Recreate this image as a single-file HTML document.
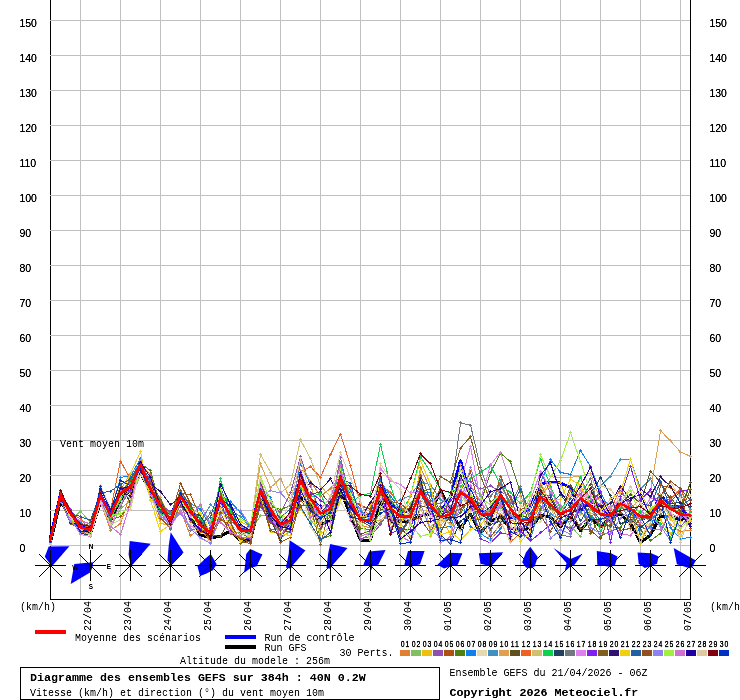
<!DOCTYPE html>
<html><head><meta charset="utf-8"><title>GEFS</title>
<style>html,body{margin:0;padding:0;background:#fff;overflow:hidden}svg{display:block}text{white-space:pre}</style>
</head><body>
<svg width="740" height="700" viewBox="0 0 740 700">
<defs><filter id="bw" x="0" y="0" width="740" height="700" filterUnits="userSpaceOnUse" color-interpolation-filters="sRGB"><feComponentTransfer><feFuncA type="table" tableValues="0 0.12 0.55 0.9 1"/></feComponentTransfer></filter><filter id="bw2" x="0" y="0" width="740" height="700" filterUnits="userSpaceOnUse" color-interpolation-filters="sRGB"><feComponentTransfer><feFuncA type="table" tableValues="0 0.25 0.8 1 1"/></feComponentTransfer></filter></defs>
<rect width="740" height="700" fill="#fff"/>
<path d="M80.5,0V599M120.5,0V599M160.5,0V599M200.5,0V599M240.5,0V599M280.5,0V599M320.5,0V599M360.5,0V599M400.5,0V599M440.5,0V599M480.5,0V599M520.5,0V599M560.5,0V599M600.5,0V599M640.5,0V599M680.5,0V599" stroke="#c0c0c0" stroke-width="1" fill="none" shape-rendering="crispEdges"/>
<path d="M50.5,0V600M690.5,0V600M50,599.5H691" stroke="#000" stroke-width="1" fill="none" shape-rendering="crispEdges"/>
<path d="M50,20.5H690M50,55.5H690M50,90.5H690M50,125.5H690M50,160.5H690M50,195.5H690M50,230.5H690M50,265.5H690M50,300.5H690M50,335.5H690M50,370.5H690M50,405.5H690M50,440.5H690M50,475.5H690M50,510.5H690M50,545.5H690" stroke="#c0c0c0" stroke-width="1" fill="none" shape-rendering="crispEdges"/>
<g filter="url(#bw2)" font-family="Liberation Sans, sans-serif" font-size="10.5" fill="#000"><text x="19.4" y="27">150</text><text x="709.4" y="27">150</text><text x="19.4" y="62">140</text><text x="709.4" y="62">140</text><text x="19.4" y="97">130</text><text x="709.4" y="97">130</text><text x="19.4" y="132">120</text><text x="709.4" y="132">120</text><text x="19.4" y="167">110</text><text x="709.4" y="167">110</text><text x="19.4" y="202">100</text><text x="709.4" y="202">100</text><text x="19.4" y="237">90</text><text x="709.4" y="237">90</text><text x="19.4" y="272">80</text><text x="709.4" y="272">80</text><text x="19.4" y="307">70</text><text x="709.4" y="307">70</text><text x="19.4" y="342">60</text><text x="709.4" y="342">60</text><text x="19.4" y="377">50</text><text x="709.4" y="377">50</text><text x="19.4" y="412">40</text><text x="709.4" y="412">40</text><text x="19.4" y="447">30</text><text x="709.4" y="447">30</text><text x="19.4" y="482">20</text><text x="709.4" y="482">20</text><text x="19.4" y="517">10</text><text x="709.4" y="517">10</text><text x="19.4" y="552">0</text><text x="709.4" y="552">0</text></g>
<g transform="translate(0.5,0.5)">
<polyline points="50,541.4 60,500.3 70,517.5 80,529.9 90,533.1 100,501.3 110,519.8 120,498.9 130,489.5 140,472.1 150,492.3 160,510.4 170,522.2 180,500.4 190,516.8 200,534.5 210,537.3 220,535.9 230,530.3 240,540.5 250,539.8 260,497.8 270,517.9 280,527.3 290,523.3 300,496.7 310,504.9 320,524.5 330,520.1 340,490.1 350,514.5 360,539.8 370,539.8 380,500.2 390,520.6 400,521.0 410,520.5 420,514.9 430,513.5 440,490.1 450,510.0 460,527.9 470,513.5 480,532.5 490,520.8 500,516.0 510,527.9 520,529.2 530,527.9 540,514.9 550,516.3 560,526.0 570,515.4 580,530.0 590,518.2 600,525.9 610,517.3 620,513.5 630,523.0 640,542.2 650,534.5 660,515.5 670,516.3 680,518.9 690,517.4" fill="none" stroke="#000" stroke-width="3" stroke-linejoin="round" stroke-linecap="round" shape-rendering="crispEdges"/>
<polyline points="50,536.9 60,493.8 70,511.7 80,524.7 90,528.7 100,494.2 110,514.2 120,491.2 130,486.1 140,461.8 150,486.1 160,504.3 170,514.6 180,495.2 190,507.3 200,524.4 210,529.8 220,499.8 230,513.4 240,529.0 250,530.5 260,489.5 270,508.5 280,524.6 290,524.7 300,476.4 310,498.4 320,513.4 330,510.0 340,475.8 350,497.1 360,518.6 370,513.5 380,482.4 390,503.0 400,510.8 410,509.8 420,491.1 430,504.3 440,511.8 450,496.4 460,460.3 470,496.4 480,510.0 490,514.2 500,503.0 510,517.0 520,515.2 530,506.5 540,483.1 550,481.6 560,482.4 570,487.2 580,510.0 590,501.2 600,504.6 610,519.9 620,500.0 630,511.3 640,518.4 650,516.4 660,494.8 670,505.7 680,506.3 690,518.7" fill="none" stroke="#0000ff" stroke-width="3" stroke-linejoin="round" stroke-linecap="round" shape-rendering="crispEdges"/>
<polyline points="50,539.1 60,495.3 70,514.7 80,531.8 90,532.8 100,501.2 110,529.6 120,523.3 130,492.5 140,463.4 150,486.9 160,519.4 170,518.7 180,510.0 190,535.2 200,527.5 210,541.6 220,516.9 230,527.8 240,534.3 250,532.6 260,489.4 270,513.7 280,524.5 290,519.6 300,484.3 310,480.5 320,495.9 330,487.8 340,476.7 350,512.2 360,525.0 370,527.2 380,487.3 390,506.7 400,516.6 410,522.9 420,466.9 430,489.0 440,520.3 450,513.8 460,488.8 470,508.7 480,515.0 490,509.0 500,513.6 510,519.8 520,522.3 530,528.1 540,501.9 550,504.0 560,524.8 570,512.1 580,496.8 590,500.2 600,503.7 610,502.3 620,502.4 630,523.1 640,516.1 650,520.0 660,508.9 670,524.4 680,530.8 690,530.0" fill="none" stroke="#E08030" stroke-width="1" shape-rendering="crispEdges"/>
<path d="M48.5,539h3M50,537.5v3M58.5,495h3M60,493.5v3M68.5,515h3M70,513.5v3M78.5,532h3M80,530.5v3M88.5,533h3M90,531.5v3M98.5,501h3M100,499.5v3M108.5,530h3M110,528.5v3M118.5,523h3M120,521.5v3M128.5,492h3M130,490.5v3M138.5,463h3M140,461.5v3M148.5,487h3M150,485.5v3M158.5,519h3M160,517.5v3M168.5,519h3M170,517.5v3M178.5,510h3M180,508.5v3M188.5,535h3M190,533.5v3M198.5,528h3M200,526.5v3M208.5,542h3M210,540.5v3M218.5,517h3M220,515.5v3M228.5,528h3M230,526.5v3M238.5,534h3M240,532.5v3M248.5,533h3M250,531.5v3M258.5,489h3M260,487.5v3M268.5,514h3M270,512.5v3M278.5,524h3M280,522.5v3M288.5,520h3M290,518.5v3M298.5,484h3M300,482.5v3M308.5,481h3M310,479.5v3M318.5,496h3M320,494.5v3M328.5,488h3M330,486.5v3M338.5,477h3M340,475.5v3M348.5,512h3M350,510.5v3M358.5,525h3M360,523.5v3M368.5,527h3M370,525.5v3M378.5,487h3M380,485.5v3M388.5,507h3M390,505.5v3M398.5,517h3M400,515.5v3M408.5,523h3M410,521.5v3M418.5,467h3M420,465.5v3M428.5,489h3M430,487.5v3M438.5,520h3M440,518.5v3M448.5,514h3M450,512.5v3M458.5,489h3M460,487.5v3M468.5,509h3M470,507.5v3M478.5,515h3M480,513.5v3M488.5,509h3M490,507.5v3M498.5,514h3M500,512.5v3M508.5,520h3M510,518.5v3M518.5,522h3M520,520.5v3M528.5,528h3M530,526.5v3M538.5,502h3M540,500.5v3M548.5,504h3M550,502.5v3M558.5,525h3M560,523.5v3M568.5,512h3M570,510.5v3M578.5,497h3M580,495.5v3M588.5,500h3M590,498.5v3M598.5,504h3M600,502.5v3M608.5,502h3M610,500.5v3M618.5,502h3M620,500.5v3M628.5,523h3M630,521.5v3M638.5,516h3M640,514.5v3M648.5,520h3M650,518.5v3M658.5,509h3M660,507.5v3M668.5,524h3M670,522.5v3M678.5,531h3M680,529.5v3M688.5,530h3M690,528.5v3" stroke="#E08030" stroke-width="1" fill="none" shape-rendering="crispEdges"/>
<polyline points="50,541.0 60,500.9 70,520.2 80,510.7 90,522.2 100,499.5 110,527.1 120,508.3 130,499.7 140,474.4 150,488.6 160,505.4 170,514.3 180,491.1 190,507.4 200,505.2 210,523.0 220,492.2 230,512.7 240,535.3 250,530.5 260,515.2 270,513.5 280,537.9 290,530.1 300,479.9 310,520.1 320,530.6 330,507.7 340,493.9 350,495.2 360,517.0 370,520.1 380,486.2 390,498.5 400,512.1 410,502.9 420,490.2 430,505.1 440,509.2 450,513.3 460,502.3 470,490.9 480,493.5 490,514.2 500,507.5 510,511.7 520,520.2 530,523.6 540,487.3 550,504.9 560,507.8 570,525.5 580,535.9 590,509.4 600,512.6 610,505.5 620,501.1 630,506.9 640,515.9 650,514.9 660,498.0 670,506.2 680,511.9 690,515.0" fill="none" stroke="#80C060" stroke-width="1" shape-rendering="crispEdges"/>
<path d="M48.5,541h3M50,539.5v3M58.5,501h3M60,499.5v3M68.5,520h3M70,518.5v3M78.5,511h3M80,509.5v3M88.5,522h3M90,520.5v3M98.5,499h3M100,497.5v3M108.5,527h3M110,525.5v3M118.5,508h3M120,506.5v3M128.5,500h3M130,498.5v3M138.5,474h3M140,472.5v3M148.5,489h3M150,487.5v3M158.5,505h3M160,503.5v3M168.5,514h3M170,512.5v3M178.5,491h3M180,489.5v3M188.5,507h3M190,505.5v3M198.5,505h3M200,503.5v3M208.5,523h3M210,521.5v3M218.5,492h3M220,490.5v3M228.5,513h3M230,511.5v3M238.5,535h3M240,533.5v3M248.5,530h3M250,528.5v3M258.5,515h3M260,513.5v3M268.5,514h3M270,512.5v3M278.5,538h3M280,536.5v3M288.5,530h3M290,528.5v3M298.5,480h3M300,478.5v3M308.5,520h3M310,518.5v3M318.5,531h3M320,529.5v3M328.5,508h3M330,506.5v3M338.5,494h3M340,492.5v3M348.5,495h3M350,493.5v3M358.5,517h3M360,515.5v3M368.5,520h3M370,518.5v3M378.5,486h3M380,484.5v3M388.5,499h3M390,497.5v3M398.5,512h3M400,510.5v3M408.5,503h3M410,501.5v3M418.5,490h3M420,488.5v3M428.5,505h3M430,503.5v3M438.5,509h3M440,507.5v3M448.5,513h3M450,511.5v3M458.5,502h3M460,500.5v3M468.5,491h3M470,489.5v3M478.5,494h3M480,492.5v3M488.5,514h3M490,512.5v3M498.5,508h3M500,506.5v3M508.5,512h3M510,510.5v3M518.5,520h3M520,518.5v3M528.5,524h3M530,522.5v3M538.5,487h3M540,485.5v3M548.5,505h3M550,503.5v3M558.5,508h3M560,506.5v3M568.5,526h3M570,524.5v3M578.5,536h3M580,534.5v3M588.5,509h3M590,507.5v3M598.5,513h3M600,511.5v3M608.5,506h3M610,504.5v3M618.5,501h3M620,499.5v3M628.5,507h3M630,505.5v3M638.5,516h3M640,514.5v3M648.5,515h3M650,513.5v3M658.5,498h3M660,496.5v3M668.5,506h3M670,504.5v3M678.5,512h3M680,510.5v3M688.5,515h3M690,513.5v3" stroke="#80C060" stroke-width="1" fill="none" shape-rendering="crispEdges"/>
<polyline points="50,538.2 60,490.7 70,509.7 80,526.8 90,530.6 100,496.1 110,513.8 120,492.6 130,486.1 140,459.3 150,494.6 160,523.0 170,524.7 180,495.8 190,510.8 200,525.1 210,532.5 220,496.4 230,518.1 240,521.4 250,526.0 260,489.3 270,509.5 280,526.7 290,523.5 300,508.4 310,522.9 320,513.3 330,519.3 340,487.3 350,501.2 360,514.6 370,505.4 380,490.1 390,508.9 400,521.3 410,515.9 420,470.4 430,536.3 440,516.3 450,533.5 460,476.8 470,519.5 480,517.3 490,513.5 500,494.2 510,505.0 520,512.1 530,514.8 540,496.3 550,483.3 560,482.1 570,507.9 580,477.3 590,505.1 600,511.7 610,514.9 620,503.0 630,504.6 640,543.2 650,512.6 660,519.4 670,533.3 680,520.6 690,524.2" fill="none" stroke="#F0C010" stroke-width="1" shape-rendering="crispEdges"/>
<path d="M48.5,538h3M50,536.5v3M58.5,491h3M60,489.5v3M68.5,510h3M70,508.5v3M78.5,527h3M80,525.5v3M88.5,531h3M90,529.5v3M98.5,496h3M100,494.5v3M108.5,514h3M110,512.5v3M118.5,493h3M120,491.5v3M128.5,486h3M130,484.5v3M138.5,459h3M140,457.5v3M148.5,495h3M150,493.5v3M158.5,523h3M160,521.5v3M168.5,525h3M170,523.5v3M178.5,496h3M180,494.5v3M188.5,511h3M190,509.5v3M198.5,525h3M200,523.5v3M208.5,533h3M210,531.5v3M218.5,496h3M220,494.5v3M228.5,518h3M230,516.5v3M238.5,521h3M240,519.5v3M248.5,526h3M250,524.5v3M258.5,489h3M260,487.5v3M268.5,510h3M270,508.5v3M278.5,527h3M280,525.5v3M288.5,523h3M290,521.5v3M298.5,508h3M300,506.5v3M308.5,523h3M310,521.5v3M318.5,513h3M320,511.5v3M328.5,519h3M330,517.5v3M338.5,487h3M340,485.5v3M348.5,501h3M350,499.5v3M358.5,515h3M360,513.5v3M368.5,505h3M370,503.5v3M378.5,490h3M380,488.5v3M388.5,509h3M390,507.5v3M398.5,521h3M400,519.5v3M408.5,516h3M410,514.5v3M418.5,470h3M420,468.5v3M428.5,536h3M430,534.5v3M438.5,516h3M440,514.5v3M448.5,534h3M450,532.5v3M458.5,477h3M460,475.5v3M468.5,519h3M470,517.5v3M478.5,517h3M480,515.5v3M488.5,514h3M490,512.5v3M498.5,494h3M500,492.5v3M508.5,505h3M510,503.5v3M518.5,512h3M520,510.5v3M528.5,515h3M530,513.5v3M538.5,496h3M540,494.5v3M548.5,483h3M550,481.5v3M558.5,482h3M560,480.5v3M568.5,508h3M570,506.5v3M578.5,477h3M580,475.5v3M588.5,505h3M590,503.5v3M598.5,512h3M600,510.5v3M608.5,515h3M610,513.5v3M618.5,503h3M620,501.5v3M628.5,505h3M630,503.5v3M638.5,543h3M640,541.5v3M648.5,513h3M650,511.5v3M658.5,519h3M660,517.5v3M668.5,533h3M670,531.5v3M678.5,521h3M680,519.5v3M688.5,524h3M690,522.5v3" stroke="#F0C010" stroke-width="1" fill="none" shape-rendering="crispEdges"/>
<polyline points="50,543.2 60,495.0 70,513.1 80,521.7 90,529.8 100,495.7 110,520.9 120,492.5 130,481.5 140,464.1 150,479.6 160,503.5 170,511.3 180,505.9 190,509.2 200,524.5 210,536.2 220,497.0 230,515.2 240,525.3 250,531.0 260,484.8 270,503.4 280,512.3 290,492.5 300,456.1 310,485.5 320,512.2 330,507.4 340,457.3 350,501.0 360,538.0 370,536.1 380,523.8 390,508.4 400,515.9 410,517.5 420,491.1 430,495.2 440,514.2 450,508.1 460,478.8 470,481.2 480,488.4 490,485.3 500,491.4 510,495.5 520,525.8 530,533.7 540,470.8 550,492.5 560,522.7 570,528.1 580,524.1 590,514.8 600,524.3 610,520.6 620,491.0 630,502.8 640,512.6 650,501.6 660,495.5 670,515.0 680,526.3 690,514.8" fill="none" stroke="#9050B0" stroke-width="1" shape-rendering="crispEdges"/>
<path d="M48.5,543h3M50,541.5v3M58.5,495h3M60,493.5v3M68.5,513h3M70,511.5v3M78.5,522h3M80,520.5v3M88.5,530h3M90,528.5v3M98.5,496h3M100,494.5v3M108.5,521h3M110,519.5v3M118.5,492h3M120,490.5v3M128.5,482h3M130,480.5v3M138.5,464h3M140,462.5v3M148.5,480h3M150,478.5v3M158.5,504h3M160,502.5v3M168.5,511h3M170,509.5v3M178.5,506h3M180,504.5v3M188.5,509h3M190,507.5v3M198.5,524h3M200,522.5v3M208.5,536h3M210,534.5v3M218.5,497h3M220,495.5v3M228.5,515h3M230,513.5v3M238.5,525h3M240,523.5v3M248.5,531h3M250,529.5v3M258.5,485h3M260,483.5v3M268.5,503h3M270,501.5v3M278.5,512h3M280,510.5v3M288.5,492h3M290,490.5v3M298.5,456h3M300,454.5v3M308.5,486h3M310,484.5v3M318.5,512h3M320,510.5v3M328.5,507h3M330,505.5v3M338.5,457h3M340,455.5v3M348.5,501h3M350,499.5v3M358.5,538h3M360,536.5v3M368.5,536h3M370,534.5v3M378.5,524h3M380,522.5v3M388.5,508h3M390,506.5v3M398.5,516h3M400,514.5v3M408.5,517h3M410,515.5v3M418.5,491h3M420,489.5v3M428.5,495h3M430,493.5v3M438.5,514h3M440,512.5v3M448.5,508h3M450,506.5v3M458.5,479h3M460,477.5v3M468.5,481h3M470,479.5v3M478.5,488h3M480,486.5v3M488.5,485h3M490,483.5v3M498.5,491h3M500,489.5v3M508.5,496h3M510,494.5v3M518.5,526h3M520,524.5v3M528.5,534h3M530,532.5v3M538.5,471h3M540,469.5v3M548.5,492h3M550,490.5v3M558.5,523h3M560,521.5v3M568.5,528h3M570,526.5v3M578.5,524h3M580,522.5v3M588.5,515h3M590,513.5v3M598.5,524h3M600,522.5v3M608.5,521h3M610,519.5v3M618.5,491h3M620,489.5v3M628.5,503h3M630,501.5v3M638.5,513h3M640,511.5v3M648.5,502h3M650,500.5v3M658.5,496h3M660,494.5v3M668.5,515h3M670,513.5v3M678.5,526h3M680,524.5v3M688.5,515h3M690,513.5v3" stroke="#9050B0" stroke-width="1" fill="none" shape-rendering="crispEdges"/>
<polyline points="50,542.3 60,495.1 70,513.1 80,527.6 90,528.4 100,494.9 110,518.9 120,516.2 130,504.0 140,464.4 150,491.2 160,517.7 170,527.6 180,492.5 190,494.2 200,517.0 210,537.0 220,519.3 230,524.5 240,539.9 250,543.2 260,497.6 270,516.8 280,541.6 290,537.0 300,499.6 310,512.3 320,513.1 330,502.7 340,470.4 350,497.0 360,505.1 370,508.6 380,478.8 390,520.9 400,515.0 410,505.9 420,483.7 430,505.1 440,488.7 450,521.7 460,492.0 470,471.1 480,512.4 490,510.7 500,475.5 510,498.7 520,509.1 530,504.3 540,498.5 550,504.0 560,513.6 570,505.6 580,497.7 590,506.8 600,526.3 610,524.3 620,503.0 630,508.4 640,525.2 650,532.8 660,485.0 670,487.0 680,493.6 690,528.0" fill="none" stroke="#B05010" stroke-width="1" shape-rendering="crispEdges"/>
<path d="M48.5,542h3M50,540.5v3M58.5,495h3M60,493.5v3M68.5,513h3M70,511.5v3M78.5,528h3M80,526.5v3M88.5,528h3M90,526.5v3M98.5,495h3M100,493.5v3M108.5,519h3M110,517.5v3M118.5,516h3M120,514.5v3M128.5,504h3M130,502.5v3M138.5,464h3M140,462.5v3M148.5,491h3M150,489.5v3M158.5,518h3M160,516.5v3M168.5,528h3M170,526.5v3M178.5,492h3M180,490.5v3M188.5,494h3M190,492.5v3M198.5,517h3M200,515.5v3M208.5,537h3M210,535.5v3M218.5,519h3M220,517.5v3M228.5,525h3M230,523.5v3M238.5,540h3M240,538.5v3M248.5,543h3M250,541.5v3M258.5,498h3M260,496.5v3M268.5,517h3M270,515.5v3M278.5,542h3M280,540.5v3M288.5,537h3M290,535.5v3M298.5,500h3M300,498.5v3M308.5,512h3M310,510.5v3M318.5,513h3M320,511.5v3M328.5,503h3M330,501.5v3M338.5,470h3M340,468.5v3M348.5,497h3M350,495.5v3M358.5,505h3M360,503.5v3M368.5,509h3M370,507.5v3M378.5,479h3M380,477.5v3M388.5,521h3M390,519.5v3M398.5,515h3M400,513.5v3M408.5,506h3M410,504.5v3M418.5,484h3M420,482.5v3M428.5,505h3M430,503.5v3M438.5,489h3M440,487.5v3M448.5,522h3M450,520.5v3M458.5,492h3M460,490.5v3M468.5,471h3M470,469.5v3M478.5,512h3M480,510.5v3M488.5,511h3M490,509.5v3M498.5,476h3M500,474.5v3M508.5,499h3M510,497.5v3M518.5,509h3M520,507.5v3M528.5,504h3M530,502.5v3M538.5,499h3M540,497.5v3M548.5,504h3M550,502.5v3M558.5,514h3M560,512.5v3M568.5,506h3M570,504.5v3M578.5,498h3M580,496.5v3M588.5,507h3M590,505.5v3M598.5,526h3M600,524.5v3M608.5,524h3M610,522.5v3M618.5,503h3M620,501.5v3M628.5,508h3M630,506.5v3M638.5,525h3M640,523.5v3M648.5,533h3M650,531.5v3M658.5,485h3M660,483.5v3M668.5,487h3M670,485.5v3M678.5,494h3M680,492.5v3M688.5,528h3M690,526.5v3" stroke="#B05010" stroke-width="1" fill="none" shape-rendering="crispEdges"/>
<polyline points="50,538.6 60,493.0 70,510.4 80,526.5 90,528.9 100,500.2 110,515.6 120,492.1 130,486.2 140,463.1 150,470.1 160,505.8 170,523.0 180,496.0 190,511.0 200,525.6 210,539.6 220,490.6 230,508.5 240,531.2 250,539.3 260,488.4 270,505.9 280,509.0 290,505.3 300,479.4 310,494.9 320,539.2 330,534.8 340,491.6 350,504.6 360,528.1 370,528.8 380,487.9 390,505.8 400,510.5 410,510.5 420,490.6 430,488.6 440,512.9 450,518.2 460,512.5 470,497.7 480,503.0 490,471.9 500,452.6 510,461.4 520,492.5 530,529.9 540,508.9 550,499.3 560,511.1 570,509.4 580,497.3 590,516.9 600,535.7 610,530.9 620,526.6 630,512.1 640,529.4 650,540.2 660,532.7 670,508.2 680,506.5 690,482.4" fill="none" stroke="#508010" stroke-width="1" shape-rendering="crispEdges"/>
<path d="M48.5,539h3M50,537.5v3M58.5,493h3M60,491.5v3M68.5,510h3M70,508.5v3M78.5,527h3M80,525.5v3M88.5,529h3M90,527.5v3M98.5,500h3M100,498.5v3M108.5,516h3M110,514.5v3M118.5,492h3M120,490.5v3M128.5,486h3M130,484.5v3M138.5,463h3M140,461.5v3M148.5,470h3M150,468.5v3M158.5,506h3M160,504.5v3M168.5,523h3M170,521.5v3M178.5,496h3M180,494.5v3M188.5,511h3M190,509.5v3M198.5,526h3M200,524.5v3M208.5,540h3M210,538.5v3M218.5,491h3M220,489.5v3M228.5,509h3M230,507.5v3M238.5,531h3M240,529.5v3M248.5,539h3M250,537.5v3M258.5,488h3M260,486.5v3M268.5,506h3M270,504.5v3M278.5,509h3M280,507.5v3M288.5,505h3M290,503.5v3M298.5,479h3M300,477.5v3M308.5,495h3M310,493.5v3M318.5,539h3M320,537.5v3M328.5,535h3M330,533.5v3M338.5,492h3M340,490.5v3M348.5,505h3M350,503.5v3M358.5,528h3M360,526.5v3M368.5,529h3M370,527.5v3M378.5,488h3M380,486.5v3M388.5,506h3M390,504.5v3M398.5,511h3M400,509.5v3M408.5,511h3M410,509.5v3M418.5,491h3M420,489.5v3M428.5,489h3M430,487.5v3M438.5,513h3M440,511.5v3M448.5,518h3M450,516.5v3M458.5,512h3M460,510.5v3M468.5,498h3M470,496.5v3M478.5,503h3M480,501.5v3M488.5,472h3M490,470.5v3M498.5,453h3M500,451.5v3M508.5,461h3M510,459.5v3M518.5,492h3M520,490.5v3M528.5,530h3M530,528.5v3M538.5,509h3M540,507.5v3M548.5,499h3M550,497.5v3M558.5,511h3M560,509.5v3M568.5,509h3M570,507.5v3M578.5,497h3M580,495.5v3M588.5,517h3M590,515.5v3M598.5,536h3M600,534.5v3M608.5,531h3M610,529.5v3M618.5,527h3M620,525.5v3M628.5,512h3M630,510.5v3M638.5,529h3M640,527.5v3M648.5,540h3M650,538.5v3M658.5,533h3M660,531.5v3M668.5,508h3M670,506.5v3M678.5,506h3M680,504.5v3M688.5,482h3M690,480.5v3" stroke="#508010" stroke-width="1" fill="none" shape-rendering="crispEdges"/>
<polyline points="50,539.5 60,494.9 70,513.4 80,523.0 90,525.0 100,493.9 110,512.5 120,476.8 130,475.7 140,458.1 150,488.3 160,505.8 170,515.4 180,495.4 190,502.8 200,509.2 210,525.5 220,496.0 230,501.1 240,512.1 250,528.0 260,488.8 270,497.3 280,520.6 290,515.1 300,462.7 310,484.1 320,516.2 330,508.0 340,477.4 350,490.0 360,510.7 370,519.3 380,480.9 390,495.6 400,508.5 410,514.3 420,490.9 430,492.2 440,527.4 450,526.0 460,499.5 470,525.8 480,533.1 490,539.3 500,528.3 510,509.1 520,517.8 530,518.0 540,482.0 550,459.2 560,471.9 570,473.9 580,449.8 590,466.2 600,492.1 610,510.0 620,506.5 630,506.0 640,534.3 650,526.5 660,499.8 670,527.2 680,538.4 690,536.8" fill="none" stroke="#1080F0" stroke-width="1" shape-rendering="crispEdges"/>
<path d="M48.5,540h3M50,538.5v3M58.5,495h3M60,493.5v3M68.5,513h3M70,511.5v3M78.5,523h3M80,521.5v3M88.5,525h3M90,523.5v3M98.5,494h3M100,492.5v3M108.5,512h3M110,510.5v3M118.5,477h3M120,475.5v3M128.5,476h3M130,474.5v3M138.5,458h3M140,456.5v3M148.5,488h3M150,486.5v3M158.5,506h3M160,504.5v3M168.5,515h3M170,513.5v3M178.5,495h3M180,493.5v3M188.5,503h3M190,501.5v3M198.5,509h3M200,507.5v3M208.5,525h3M210,523.5v3M218.5,496h3M220,494.5v3M228.5,501h3M230,499.5v3M238.5,512h3M240,510.5v3M248.5,528h3M250,526.5v3M258.5,489h3M260,487.5v3M268.5,497h3M270,495.5v3M278.5,521h3M280,519.5v3M288.5,515h3M290,513.5v3M298.5,463h3M300,461.5v3M308.5,484h3M310,482.5v3M318.5,516h3M320,514.5v3M328.5,508h3M330,506.5v3M338.5,477h3M340,475.5v3M348.5,490h3M350,488.5v3M358.5,511h3M360,509.5v3M368.5,519h3M370,517.5v3M378.5,481h3M380,479.5v3M388.5,496h3M390,494.5v3M398.5,508h3M400,506.5v3M408.5,514h3M410,512.5v3M418.5,491h3M420,489.5v3M428.5,492h3M430,490.5v3M438.5,527h3M440,525.5v3M448.5,526h3M450,524.5v3M458.5,499h3M460,497.5v3M468.5,526h3M470,524.5v3M478.5,533h3M480,531.5v3M488.5,539h3M490,537.5v3M498.5,528h3M500,526.5v3M508.5,509h3M510,507.5v3M518.5,518h3M520,516.5v3M528.5,518h3M530,516.5v3M538.5,482h3M540,480.5v3M548.5,459h3M550,457.5v3M558.5,472h3M560,470.5v3M568.5,474h3M570,472.5v3M578.5,450h3M580,448.5v3M588.5,466h3M590,464.5v3M598.5,492h3M600,490.5v3M608.5,510h3M610,508.5v3M618.5,507h3M620,505.5v3M628.5,506h3M630,504.5v3M638.5,534h3M640,532.5v3M648.5,526h3M650,524.5v3M658.5,500h3M660,498.5v3M668.5,527h3M670,525.5v3M678.5,538h3M680,536.5v3M688.5,537h3M690,535.5v3" stroke="#1080F0" stroke-width="1" fill="none" shape-rendering="crispEdges"/>
<polyline points="50,542.7 60,497.5 70,514.2 80,526.8 90,529.2 100,484.8 110,507.4 120,495.2 130,486.3 140,470.1 150,498.9 160,513.1 170,520.9 180,494.6 190,524.1 200,539.0 210,540.6 220,504.8 230,523.0 240,532.6 250,536.0 260,489.8 270,508.9 280,524.1 290,525.8 300,485.9 310,525.9 320,542.3 330,523.9 340,501.6 350,518.2 360,523.6 370,538.2 380,516.2 390,512.1 400,515.9 410,513.4 420,487.3 430,511.7 440,521.9 450,515.6 460,487.1 470,492.9 480,514.2 490,531.0 500,510.5 510,525.1 520,538.5 530,526.5 540,521.3 550,509.3 560,513.5 570,515.1 580,488.0 590,503.9 600,508.7 610,511.7 620,494.1 630,530.4 640,536.9 650,521.4 660,498.8 670,481.6 680,498.0 690,494.6" fill="none" stroke="#E8D8B0" stroke-width="1" shape-rendering="crispEdges"/>
<path d="M48.5,543h3M50,541.5v3M58.5,497h3M60,495.5v3M68.5,514h3M70,512.5v3M78.5,527h3M80,525.5v3M88.5,529h3M90,527.5v3M98.5,485h3M100,483.5v3M108.5,507h3M110,505.5v3M118.5,495h3M120,493.5v3M128.5,486h3M130,484.5v3M138.5,470h3M140,468.5v3M148.5,499h3M150,497.5v3M158.5,513h3M160,511.5v3M168.5,521h3M170,519.5v3M178.5,495h3M180,493.5v3M188.5,524h3M190,522.5v3M198.5,539h3M200,537.5v3M208.5,541h3M210,539.5v3M218.5,505h3M220,503.5v3M228.5,523h3M230,521.5v3M238.5,533h3M240,531.5v3M248.5,536h3M250,534.5v3M258.5,490h3M260,488.5v3M268.5,509h3M270,507.5v3M278.5,524h3M280,522.5v3M288.5,526h3M290,524.5v3M298.5,486h3M300,484.5v3M308.5,526h3M310,524.5v3M318.5,542h3M320,540.5v3M328.5,524h3M330,522.5v3M338.5,502h3M340,500.5v3M348.5,518h3M350,516.5v3M358.5,524h3M360,522.5v3M368.5,538h3M370,536.5v3M378.5,516h3M380,514.5v3M388.5,512h3M390,510.5v3M398.5,516h3M400,514.5v3M408.5,513h3M410,511.5v3M418.5,487h3M420,485.5v3M428.5,512h3M430,510.5v3M438.5,522h3M440,520.5v3M448.5,516h3M450,514.5v3M458.5,487h3M460,485.5v3M468.5,493h3M470,491.5v3M478.5,514h3M480,512.5v3M488.5,531h3M490,529.5v3M498.5,510h3M500,508.5v3M508.5,525h3M510,523.5v3M518.5,538h3M520,536.5v3M528.5,526h3M530,524.5v3M538.5,521h3M540,519.5v3M548.5,509h3M550,507.5v3M558.5,513h3M560,511.5v3M568.5,515h3M570,513.5v3M578.5,488h3M580,486.5v3M588.5,504h3M590,502.5v3M598.5,509h3M600,507.5v3M608.5,512h3M610,510.5v3M618.5,494h3M620,492.5v3M628.5,530h3M630,528.5v3M638.5,537h3M640,535.5v3M648.5,521h3M650,519.5v3M658.5,499h3M660,497.5v3M668.5,482h3M670,480.5v3M678.5,498h3M680,496.5v3M688.5,495h3M690,493.5v3" stroke="#E8D8B0" stroke-width="1" fill="none" shape-rendering="crispEdges"/>
<polyline points="50,537.9 60,494.5 70,513.2 80,526.7 90,531.8 100,494.7 110,518.1 120,496.6 130,478.0 140,463.5 150,487.9 160,504.2 170,512.9 180,496.4 190,511.0 200,521.2 210,504.4 220,513.5 230,510.2 240,515.7 250,527.1 260,486.0 270,509.1 280,519.1 290,519.8 300,477.3 310,497.9 320,519.3 330,507.9 340,461.5 350,498.4 360,521.3 370,520.1 380,487.8 390,504.6 400,499.2 410,494.9 420,481.2 430,484.4 440,499.1 450,505.9 460,490.9 470,497.5 480,535.7 490,512.9 500,479.6 510,508.0 520,534.3 530,538.0 540,506.4 550,513.4 560,519.1 570,520.9 580,511.0 590,524.3 600,485.5 610,475.7 620,458.6 630,459.2 640,488.3 650,478.5 660,499.5 670,510.2 680,493.9 690,509.0" fill="none" stroke="#4090C0" stroke-width="1" shape-rendering="crispEdges"/>
<path d="M48.5,538h3M50,536.5v3M58.5,495h3M60,493.5v3M68.5,513h3M70,511.5v3M78.5,527h3M80,525.5v3M88.5,532h3M90,530.5v3M98.5,495h3M100,493.5v3M108.5,518h3M110,516.5v3M118.5,497h3M120,495.5v3M128.5,478h3M130,476.5v3M138.5,464h3M140,462.5v3M148.5,488h3M150,486.5v3M158.5,504h3M160,502.5v3M168.5,513h3M170,511.5v3M178.5,496h3M180,494.5v3M188.5,511h3M190,509.5v3M198.5,521h3M200,519.5v3M208.5,504h3M210,502.5v3M218.5,514h3M220,512.5v3M228.5,510h3M230,508.5v3M238.5,516h3M240,514.5v3M248.5,527h3M250,525.5v3M258.5,486h3M260,484.5v3M268.5,509h3M270,507.5v3M278.5,519h3M280,517.5v3M288.5,520h3M290,518.5v3M298.5,477h3M300,475.5v3M308.5,498h3M310,496.5v3M318.5,519h3M320,517.5v3M328.5,508h3M330,506.5v3M338.5,462h3M340,460.5v3M348.5,498h3M350,496.5v3M358.5,521h3M360,519.5v3M368.5,520h3M370,518.5v3M378.5,488h3M380,486.5v3M388.5,505h3M390,503.5v3M398.5,499h3M400,497.5v3M408.5,495h3M410,493.5v3M418.5,481h3M420,479.5v3M428.5,484h3M430,482.5v3M438.5,499h3M440,497.5v3M448.5,506h3M450,504.5v3M458.5,491h3M460,489.5v3M468.5,497h3M470,495.5v3M478.5,536h3M480,534.5v3M488.5,513h3M490,511.5v3M498.5,480h3M500,478.5v3M508.5,508h3M510,506.5v3M518.5,534h3M520,532.5v3M528.5,538h3M530,536.5v3M538.5,506h3M540,504.5v3M548.5,513h3M550,511.5v3M558.5,519h3M560,517.5v3M568.5,521h3M570,519.5v3M578.5,511h3M580,509.5v3M588.5,524h3M590,522.5v3M598.5,486h3M600,484.5v3M608.5,476h3M610,474.5v3M618.5,459h3M620,457.5v3M628.5,459h3M630,457.5v3M638.5,488h3M640,486.5v3M648.5,478h3M650,476.5v3M658.5,500h3M660,498.5v3M668.5,510h3M670,508.5v3M678.5,494h3M680,492.5v3M688.5,509h3M690,507.5v3" stroke="#4090C0" stroke-width="1" fill="none" shape-rendering="crispEdges"/>
<polyline points="50,539.0 60,495.9 70,519.3 80,532.6 90,533.4 100,496.6 110,515.2 120,489.7 130,473.0 140,463.7 150,488.1 160,497.0 170,519.3 180,499.5 190,513.0 200,524.7 210,532.7 220,498.4 230,515.2 240,529.9 250,525.8 260,463.4 270,487.2 280,477.8 290,499.5 300,461.0 310,482.0 320,523.3 330,507.9 340,476.2 350,500.2 360,518.3 370,520.2 380,519.9 390,509.7 400,515.9 410,516.1 420,491.3 430,501.3 440,525.4 450,513.8 460,464.2 470,494.5 480,511.6 490,514.3 500,485.9 510,501.4 520,495.4 530,516.2 540,496.0 550,476.4 560,476.8 570,476.8 580,475.7 590,472.9 600,499.5 610,516.5 620,502.7 630,507.9 640,497.8 650,491.1 660,430.2 670,440.4 680,451.6 690,455.8" fill="none" stroke="#E0A050" stroke-width="1" shape-rendering="crispEdges"/>
<path d="M48.5,539h3M50,537.5v3M58.5,496h3M60,494.5v3M68.5,519h3M70,517.5v3M78.5,533h3M80,531.5v3M88.5,533h3M90,531.5v3M98.5,497h3M100,495.5v3M108.5,515h3M110,513.5v3M118.5,490h3M120,488.5v3M128.5,473h3M130,471.5v3M138.5,464h3M140,462.5v3M148.5,488h3M150,486.5v3M158.5,497h3M160,495.5v3M168.5,519h3M170,517.5v3M178.5,500h3M180,498.5v3M188.5,513h3M190,511.5v3M198.5,525h3M200,523.5v3M208.5,533h3M210,531.5v3M218.5,498h3M220,496.5v3M228.5,515h3M230,513.5v3M238.5,530h3M240,528.5v3M248.5,526h3M250,524.5v3M258.5,463h3M260,461.5v3M268.5,487h3M270,485.5v3M278.5,478h3M280,476.5v3M288.5,500h3M290,498.5v3M298.5,461h3M300,459.5v3M308.5,482h3M310,480.5v3M318.5,523h3M320,521.5v3M328.5,508h3M330,506.5v3M338.5,476h3M340,474.5v3M348.5,500h3M350,498.5v3M358.5,518h3M360,516.5v3M368.5,520h3M370,518.5v3M378.5,520h3M380,518.5v3M388.5,510h3M390,508.5v3M398.5,516h3M400,514.5v3M408.5,516h3M410,514.5v3M418.5,491h3M420,489.5v3M428.5,501h3M430,499.5v3M438.5,525h3M440,523.5v3M448.5,514h3M450,512.5v3M458.5,464h3M460,462.5v3M468.5,495h3M470,493.5v3M478.5,512h3M480,510.5v3M488.5,514h3M490,512.5v3M498.5,486h3M500,484.5v3M508.5,501h3M510,499.5v3M518.5,495h3M520,493.5v3M528.5,516h3M530,514.5v3M538.5,496h3M540,494.5v3M548.5,476h3M550,474.5v3M558.5,477h3M560,475.5v3M568.5,477h3M570,475.5v3M578.5,476h3M580,474.5v3M588.5,473h3M590,471.5v3M598.5,500h3M600,498.5v3M608.5,517h3M610,515.5v3M618.5,503h3M620,501.5v3M628.5,508h3M630,506.5v3M638.5,498h3M640,496.5v3M648.5,491h3M650,489.5v3M658.5,430h3M660,428.5v3M668.5,440h3M670,438.5v3M678.5,452h3M680,450.5v3M688.5,456h3M690,454.5v3" stroke="#E0A050" stroke-width="1" fill="none" shape-rendering="crispEdges"/>
<polyline points="50,540.7 60,494.3 70,512.0 80,526.3 90,521.9 100,493.4 110,516.6 120,492.4 130,485.6 140,467.5 150,496.7 160,507.6 170,519.0 180,504.4 190,517.6 200,530.8 210,534.9 220,535.9 230,517.1 240,531.9 250,530.6 260,481.3 270,508.7 280,522.6 290,521.6 300,480.0 310,493.6 320,491.5 330,504.3 340,476.9 350,501.3 360,533.7 370,530.4 380,509.3 390,508.2 400,526.7 410,538.4 420,505.8 430,507.0 440,531.9 450,513.6 460,492.1 470,499.6 480,513.4 490,528.5 500,517.0 510,513.3 520,514.5 530,518.5 540,496.3 550,506.1 560,516.2 570,484.8 580,498.8 590,483.6 600,513.7 610,514.9 620,502.9 630,494.0 640,503.0 650,470.8 660,481.6 670,499.5 680,510.8 690,482.2" fill="none" stroke="#605020" stroke-width="1" shape-rendering="crispEdges"/>
<path d="M48.5,541h3M50,539.5v3M58.5,494h3M60,492.5v3M68.5,512h3M70,510.5v3M78.5,526h3M80,524.5v3M88.5,522h3M90,520.5v3M98.5,493h3M100,491.5v3M108.5,517h3M110,515.5v3M118.5,492h3M120,490.5v3M128.5,486h3M130,484.5v3M138.5,467h3M140,465.5v3M148.5,497h3M150,495.5v3M158.5,508h3M160,506.5v3M168.5,519h3M170,517.5v3M178.5,504h3M180,502.5v3M188.5,518h3M190,516.5v3M198.5,531h3M200,529.5v3M208.5,535h3M210,533.5v3M218.5,536h3M220,534.5v3M228.5,517h3M230,515.5v3M238.5,532h3M240,530.5v3M248.5,531h3M250,529.5v3M258.5,481h3M260,479.5v3M268.5,509h3M270,507.5v3M278.5,523h3M280,521.5v3M288.5,522h3M290,520.5v3M298.5,480h3M300,478.5v3M308.5,494h3M310,492.5v3M318.5,491h3M320,489.5v3M328.5,504h3M330,502.5v3M338.5,477h3M340,475.5v3M348.5,501h3M350,499.5v3M358.5,534h3M360,532.5v3M368.5,530h3M370,528.5v3M378.5,509h3M380,507.5v3M388.5,508h3M390,506.5v3M398.5,527h3M400,525.5v3M408.5,538h3M410,536.5v3M418.5,506h3M420,504.5v3M428.5,507h3M430,505.5v3M438.5,532h3M440,530.5v3M448.5,514h3M450,512.5v3M458.5,492h3M460,490.5v3M468.5,500h3M470,498.5v3M478.5,513h3M480,511.5v3M488.5,529h3M490,527.5v3M498.5,517h3M500,515.5v3M508.5,513h3M510,511.5v3M518.5,515h3M520,513.5v3M528.5,519h3M530,517.5v3M538.5,496h3M540,494.5v3M548.5,506h3M550,504.5v3M558.5,516h3M560,514.5v3M568.5,485h3M570,483.5v3M578.5,499h3M580,497.5v3M588.5,484h3M590,482.5v3M598.5,514h3M600,512.5v3M608.5,515h3M610,513.5v3M618.5,503h3M620,501.5v3M628.5,494h3M630,492.5v3M638.5,503h3M640,501.5v3M648.5,471h3M650,469.5v3M658.5,482h3M660,480.5v3M668.5,500h3M670,498.5v3M678.5,511h3M680,509.5v3M688.5,482h3M690,480.5v3" stroke="#605020" stroke-width="1" fill="none" shape-rendering="crispEdges"/>
<polyline points="50,539.0 60,494.7 70,513.0 80,518.3 90,530.2 100,497.1 110,510.0 120,460.6 130,478.5 140,463.8 150,473.8 160,504.7 170,517.6 180,496.0 190,520.7 200,531.9 210,533.3 220,497.6 230,515.2 240,530.3 250,530.3 260,487.8 270,508.9 280,523.6 290,519.7 300,471.5 310,466.2 320,476.8 330,454.0 340,433.7 350,465.2 360,503.0 370,517.9 380,484.1 390,492.0 400,505.9 410,515.5 420,500.7 430,503.5 440,516.0 450,514.0 460,490.0 470,496.6 480,507.0 490,514.9 500,494.2 510,541.4 520,532.4 530,519.2 540,484.2 550,502.1 560,515.1 570,490.2 580,497.5 590,503.0 600,496.1 610,510.1 620,487.4 630,508.2 640,515.9 650,516.3 660,499.6 670,498.7 680,488.4 690,510.9" fill="none" stroke="#F06020" stroke-width="1" shape-rendering="crispEdges"/>
<path d="M48.5,539h3M50,537.5v3M58.5,495h3M60,493.5v3M68.5,513h3M70,511.5v3M78.5,518h3M80,516.5v3M88.5,530h3M90,528.5v3M98.5,497h3M100,495.5v3M108.5,510h3M110,508.5v3M118.5,461h3M120,459.5v3M128.5,478h3M130,476.5v3M138.5,464h3M140,462.5v3M148.5,474h3M150,472.5v3M158.5,505h3M160,503.5v3M168.5,518h3M170,516.5v3M178.5,496h3M180,494.5v3M188.5,521h3M190,519.5v3M198.5,532h3M200,530.5v3M208.5,533h3M210,531.5v3M218.5,498h3M220,496.5v3M228.5,515h3M230,513.5v3M238.5,530h3M240,528.5v3M248.5,530h3M250,528.5v3M258.5,488h3M260,486.5v3M268.5,509h3M270,507.5v3M278.5,524h3M280,522.5v3M288.5,520h3M290,518.5v3M298.5,472h3M300,470.5v3M308.5,466h3M310,464.5v3M318.5,477h3M320,475.5v3M328.5,454h3M330,452.5v3M338.5,434h3M340,432.5v3M348.5,465h3M350,463.5v3M358.5,503h3M360,501.5v3M368.5,518h3M370,516.5v3M378.5,484h3M380,482.5v3M388.5,492h3M390,490.5v3M398.5,506h3M400,504.5v3M408.5,515h3M410,513.5v3M418.5,501h3M420,499.5v3M428.5,504h3M430,502.5v3M438.5,516h3M440,514.5v3M448.5,514h3M450,512.5v3M458.5,490h3M460,488.5v3M468.5,497h3M470,495.5v3M478.5,507h3M480,505.5v3M488.5,515h3M490,513.5v3M498.5,494h3M500,492.5v3M508.5,541h3M510,539.5v3M518.5,532h3M520,530.5v3M528.5,519h3M530,517.5v3M538.5,484h3M540,482.5v3M548.5,502h3M550,500.5v3M558.5,515h3M560,513.5v3M568.5,490h3M570,488.5v3M578.5,498h3M580,496.5v3M588.5,503h3M590,501.5v3M598.5,496h3M600,494.5v3M608.5,510h3M610,508.5v3M618.5,487h3M620,485.5v3M628.5,508h3M630,506.5v3M638.5,516h3M640,514.5v3M648.5,516h3M650,514.5v3M658.5,500h3M660,498.5v3M668.5,499h3M670,497.5v3M678.5,488h3M680,486.5v3M688.5,511h3M690,509.5v3" stroke="#F06020" stroke-width="1" fill="none" shape-rendering="crispEdges"/>
<polyline points="50,539.3 60,498.0 70,513.8 80,526.8 90,530.0 100,494.9 110,522.0 120,493.2 130,497.7 140,473.3 150,493.7 160,514.6 170,518.5 180,494.0 190,514.0 200,523.8 210,520.1 220,495.4 230,514.2 240,526.7 250,527.5 260,454.0 270,471.5 280,492.5 290,484.1 300,439.3 310,458.2 320,485.5 330,496.0 340,476.7 350,514.1 360,522.4 370,518.7 380,495.5 390,523.1 400,522.9 410,535.8 420,508.6 430,526.6 440,517.0 450,523.8 460,529.8 470,504.4 480,516.1 490,522.0 500,500.1 510,503.4 520,500.8 530,495.2 540,493.3 550,503.8 560,540.0 570,509.3 580,514.0 590,512.8 600,514.0 610,528.6 620,505.1 630,510.8 640,542.5 650,522.9 660,493.7 670,519.3 680,513.8 690,516.2" fill="none" stroke="#D0C070" stroke-width="1" shape-rendering="crispEdges"/>
<path d="M48.5,539h3M50,537.5v3M58.5,498h3M60,496.5v3M68.5,514h3M70,512.5v3M78.5,527h3M80,525.5v3M88.5,530h3M90,528.5v3M98.5,495h3M100,493.5v3M108.5,522h3M110,520.5v3M118.5,493h3M120,491.5v3M128.5,498h3M130,496.5v3M138.5,473h3M140,471.5v3M148.5,494h3M150,492.5v3M158.5,515h3M160,513.5v3M168.5,519h3M170,517.5v3M178.5,494h3M180,492.5v3M188.5,514h3M190,512.5v3M198.5,524h3M200,522.5v3M208.5,520h3M210,518.5v3M218.5,495h3M220,493.5v3M228.5,514h3M230,512.5v3M238.5,527h3M240,525.5v3M248.5,528h3M250,526.5v3M258.5,454h3M260,452.5v3M268.5,472h3M270,470.5v3M278.5,492h3M280,490.5v3M288.5,484h3M290,482.5v3M298.5,439h3M300,437.5v3M308.5,458h3M310,456.5v3M318.5,486h3M320,484.5v3M328.5,496h3M330,494.5v3M338.5,477h3M340,475.5v3M348.5,514h3M350,512.5v3M358.5,522h3M360,520.5v3M368.5,519h3M370,517.5v3M378.5,496h3M380,494.5v3M388.5,523h3M390,521.5v3M398.5,523h3M400,521.5v3M408.5,536h3M410,534.5v3M418.5,509h3M420,507.5v3M428.5,527h3M430,525.5v3M438.5,517h3M440,515.5v3M448.5,524h3M450,522.5v3M458.5,530h3M460,528.5v3M468.5,504h3M470,502.5v3M478.5,516h3M480,514.5v3M488.5,522h3M490,520.5v3M498.5,500h3M500,498.5v3M508.5,503h3M510,501.5v3M518.5,501h3M520,499.5v3M528.5,495h3M530,493.5v3M538.5,493h3M540,491.5v3M548.5,504h3M550,502.5v3M558.5,540h3M560,538.5v3M568.5,509h3M570,507.5v3M578.5,514h3M580,512.5v3M588.5,513h3M590,511.5v3M598.5,514h3M600,512.5v3M608.5,529h3M610,527.5v3M618.5,505h3M620,503.5v3M628.5,511h3M630,509.5v3M638.5,542h3M640,540.5v3M648.5,523h3M650,521.5v3M658.5,494h3M660,492.5v3M668.5,519h3M670,517.5v3M678.5,514h3M680,512.5v3M688.5,516h3M690,514.5v3" stroke="#D0C070" stroke-width="1" fill="none" shape-rendering="crispEdges"/>
<polyline points="50,538.7 60,493.6 70,513.1 80,525.5 90,529.6 100,494.3 110,517.3 120,499.8 130,482.8 140,462.3 150,487.5 160,511.8 170,526.6 180,498.5 190,508.4 200,517.8 210,530.3 220,478.5 230,511.6 240,529.9 250,531.9 260,489.0 270,508.9 280,525.1 290,524.6 300,487.8 310,496.8 320,492.9 330,517.3 340,480.6 350,502.5 360,494.9 370,492.9 380,443.9 390,485.5 400,513.4 410,496.0 420,456.1 430,471.5 440,489.0 450,492.5 460,485.5 470,478.5 480,471.9 490,465.2 500,484.4 510,492.1 520,503.0 530,492.1 540,458.6 550,485.5 560,509.3 570,496.0 580,476.8 590,499.5 600,530.8 610,515.0 620,508.3 630,508.9 640,511.0 650,516.0 660,522.5 670,536.6 680,514.0 690,512.4" fill="none" stroke="#10D050" stroke-width="1" shape-rendering="crispEdges"/>
<path d="M48.5,539h3M50,537.5v3M58.5,494h3M60,492.5v3M68.5,513h3M70,511.5v3M78.5,526h3M80,524.5v3M88.5,530h3M90,528.5v3M98.5,494h3M100,492.5v3M108.5,517h3M110,515.5v3M118.5,500h3M120,498.5v3M128.5,483h3M130,481.5v3M138.5,462h3M140,460.5v3M148.5,487h3M150,485.5v3M158.5,512h3M160,510.5v3M168.5,527h3M170,525.5v3M178.5,499h3M180,497.5v3M188.5,508h3M190,506.5v3M198.5,518h3M200,516.5v3M208.5,530h3M210,528.5v3M218.5,478h3M220,476.5v3M228.5,512h3M230,510.5v3M238.5,530h3M240,528.5v3M248.5,532h3M250,530.5v3M258.5,489h3M260,487.5v3M268.5,509h3M270,507.5v3M278.5,525h3M280,523.5v3M288.5,525h3M290,523.5v3M298.5,488h3M300,486.5v3M308.5,497h3M310,495.5v3M318.5,493h3M320,491.5v3M328.5,517h3M330,515.5v3M338.5,481h3M340,479.5v3M348.5,503h3M350,501.5v3M358.5,495h3M360,493.5v3M368.5,493h3M370,491.5v3M378.5,444h3M380,442.5v3M388.5,486h3M390,484.5v3M398.5,513h3M400,511.5v3M408.5,496h3M410,494.5v3M418.5,456h3M420,454.5v3M428.5,472h3M430,470.5v3M438.5,489h3M440,487.5v3M448.5,492h3M450,490.5v3M458.5,486h3M460,484.5v3M468.5,478h3M470,476.5v3M478.5,472h3M480,470.5v3M488.5,465h3M490,463.5v3M498.5,484h3M500,482.5v3M508.5,492h3M510,490.5v3M518.5,503h3M520,501.5v3M528.5,492h3M530,490.5v3M538.5,459h3M540,457.5v3M548.5,486h3M550,484.5v3M558.5,509h3M560,507.5v3M568.5,496h3M570,494.5v3M578.5,477h3M580,475.5v3M588.5,500h3M590,498.5v3M598.5,531h3M600,529.5v3M608.5,515h3M610,513.5v3M618.5,508h3M620,506.5v3M628.5,509h3M630,507.5v3M638.5,511h3M640,509.5v3M648.5,516h3M650,514.5v3M658.5,523h3M660,521.5v3M668.5,537h3M670,535.5v3M678.5,514h3M680,512.5v3M688.5,512h3M690,510.5v3" stroke="#10D050" stroke-width="1" fill="none" shape-rendering="crispEdges"/>
<polyline points="50,539.2 60,494.9 70,512.8 80,533.3 90,533.9 100,495.2 110,514.6 120,486.9 130,501.8 140,469.2 150,488.3 160,500.3 170,517.0 180,495.9 190,511.0 200,515.4 210,533.0 220,494.6 230,515.7 240,530.0 250,533.3 260,491.0 270,518.5 280,539.7 290,520.3 300,479.7 310,498.8 320,513.1 330,500.7 340,483.6 350,508.8 360,518.9 370,520.0 380,488.1 390,530.4 400,515.5 410,515.0 420,488.6 430,505.0 440,534.5 450,543.2 460,520.6 470,513.8 480,530.7 490,524.0 500,520.6 510,508.4 520,528.9 530,519.1 540,517.9 550,504.2 560,494.0 570,506.9 580,503.6 590,496.0 600,476.8 610,494.9 620,523.4 630,518.8 640,527.2 650,518.8 660,497.0 670,503.4 680,501.7 690,506.5" fill="none" stroke="#204060" stroke-width="1" shape-rendering="crispEdges"/>
<path d="M48.5,539h3M50,537.5v3M58.5,495h3M60,493.5v3M68.5,513h3M70,511.5v3M78.5,533h3M80,531.5v3M88.5,534h3M90,532.5v3M98.5,495h3M100,493.5v3M108.5,515h3M110,513.5v3M118.5,487h3M120,485.5v3M128.5,502h3M130,500.5v3M138.5,469h3M140,467.5v3M148.5,488h3M150,486.5v3M158.5,500h3M160,498.5v3M168.5,517h3M170,515.5v3M178.5,496h3M180,494.5v3M188.5,511h3M190,509.5v3M198.5,515h3M200,513.5v3M208.5,533h3M210,531.5v3M218.5,495h3M220,493.5v3M228.5,516h3M230,514.5v3M238.5,530h3M240,528.5v3M248.5,533h3M250,531.5v3M258.5,491h3M260,489.5v3M268.5,519h3M270,517.5v3M278.5,540h3M280,538.5v3M288.5,520h3M290,518.5v3M298.5,480h3M300,478.5v3M308.5,499h3M310,497.5v3M318.5,513h3M320,511.5v3M328.5,501h3M330,499.5v3M338.5,484h3M340,482.5v3M348.5,509h3M350,507.5v3M358.5,519h3M360,517.5v3M368.5,520h3M370,518.5v3M378.5,488h3M380,486.5v3M388.5,530h3M390,528.5v3M398.5,515h3M400,513.5v3M408.5,515h3M410,513.5v3M418.5,489h3M420,487.5v3M428.5,505h3M430,503.5v3M438.5,534h3M440,532.5v3M448.5,543h3M450,541.5v3M458.5,521h3M460,519.5v3M468.5,514h3M470,512.5v3M478.5,531h3M480,529.5v3M488.5,524h3M490,522.5v3M498.5,521h3M500,519.5v3M508.5,508h3M510,506.5v3M518.5,529h3M520,527.5v3M528.5,519h3M530,517.5v3M538.5,518h3M540,516.5v3M548.5,504h3M550,502.5v3M558.5,494h3M560,492.5v3M568.5,507h3M570,505.5v3M578.5,504h3M580,502.5v3M588.5,496h3M590,494.5v3M598.5,477h3M600,475.5v3M608.5,495h3M610,493.5v3M618.5,523h3M620,521.5v3M628.5,519h3M630,517.5v3M638.5,527h3M640,525.5v3M648.5,519h3M650,517.5v3M658.5,497h3M660,495.5v3M668.5,503h3M670,501.5v3M678.5,502h3M680,500.5v3M688.5,506h3M690,504.5v3" stroke="#204060" stroke-width="1" fill="none" shape-rendering="crispEdges"/>
<polyline points="50,540.0 60,496.6 70,515.3 80,530.5 90,534.6 100,501.0 110,519.9 120,506.0 130,488.5 140,463.8 150,488.9 160,501.6 170,528.7 180,503.1 190,529.9 200,526.9 210,512.3 220,506.5 230,520.3 240,529.9 250,531.4 260,489.3 270,529.1 280,527.7 290,519.8 300,479.8 310,502.4 320,512.9 330,508.6 340,479.3 350,510.4 360,540.3 370,532.8 380,521.5 390,513.5 400,519.8 410,515.9 420,485.7 430,502.6 440,503.1 450,496.0 460,422.5 470,424.6 480,466.9 490,496.0 500,483.0 510,503.0 520,485.5 530,522.4 540,491.7 550,515.8 560,534.4 570,536.5 580,494.1 590,478.1 600,513.5 610,522.3 620,503.9 630,520.9 640,513.9 650,516.2 660,513.8 670,505.0 680,515.3 690,518.3" fill="none" stroke="#707880" stroke-width="1" shape-rendering="crispEdges"/>
<path d="M48.5,540h3M50,538.5v3M58.5,497h3M60,495.5v3M68.5,515h3M70,513.5v3M78.5,531h3M80,529.5v3M88.5,535h3M90,533.5v3M98.5,501h3M100,499.5v3M108.5,520h3M110,518.5v3M118.5,506h3M120,504.5v3M128.5,489h3M130,487.5v3M138.5,464h3M140,462.5v3M148.5,489h3M150,487.5v3M158.5,502h3M160,500.5v3M168.5,529h3M170,527.5v3M178.5,503h3M180,501.5v3M188.5,530h3M190,528.5v3M198.5,527h3M200,525.5v3M208.5,512h3M210,510.5v3M218.5,507h3M220,505.5v3M228.5,520h3M230,518.5v3M238.5,530h3M240,528.5v3M248.5,531h3M250,529.5v3M258.5,489h3M260,487.5v3M268.5,529h3M270,527.5v3M278.5,528h3M280,526.5v3M288.5,520h3M290,518.5v3M298.5,480h3M300,478.5v3M308.5,502h3M310,500.5v3M318.5,513h3M320,511.5v3M328.5,509h3M330,507.5v3M338.5,479h3M340,477.5v3M348.5,510h3M350,508.5v3M358.5,540h3M360,538.5v3M368.5,533h3M370,531.5v3M378.5,522h3M380,520.5v3M388.5,514h3M390,512.5v3M398.5,520h3M400,518.5v3M408.5,516h3M410,514.5v3M418.5,486h3M420,484.5v3M428.5,503h3M430,501.5v3M438.5,503h3M440,501.5v3M448.5,496h3M450,494.5v3M458.5,422h3M460,420.5v3M468.5,425h3M470,423.5v3M478.5,467h3M480,465.5v3M488.5,496h3M490,494.5v3M498.5,483h3M500,481.5v3M508.5,503h3M510,501.5v3M518.5,486h3M520,484.5v3M528.5,522h3M530,520.5v3M538.5,492h3M540,490.5v3M548.5,516h3M550,514.5v3M558.5,534h3M560,532.5v3M568.5,536h3M570,534.5v3M578.5,494h3M580,492.5v3M588.5,478h3M590,476.5v3M598.5,514h3M600,512.5v3M608.5,522h3M610,520.5v3M618.5,504h3M620,502.5v3M628.5,521h3M630,519.5v3M638.5,514h3M640,512.5v3M648.5,516h3M650,514.5v3M658.5,514h3M660,512.5v3M668.5,505h3M670,503.5v3M678.5,515h3M680,513.5v3M688.5,518h3M690,516.5v3" stroke="#707880" stroke-width="1" fill="none" shape-rendering="crispEdges"/>
<polyline points="50,540.3 60,494.9 70,517.5 80,534.1 90,535.9 100,502.6 110,525.7 120,503.8 130,486.8 140,463.8 150,488.3 160,508.5 170,525.6 180,510.8 190,526.0 200,527.7 210,532.7 220,497.2 230,516.3 240,529.5 250,530.6 260,487.0 270,507.5 280,523.8 290,513.3 300,478.9 310,498.1 320,525.6 330,521.6 340,474.9 350,486.6 360,512.8 370,515.4 380,468.0 390,480.2 400,484.1 410,492.5 420,492.0 430,504.6 440,494.3 450,511.1 460,482.0 470,445.9 480,499.5 490,464.5 500,451.6 510,482.4 520,520.0 530,500.1 540,470.9 550,487.8 560,513.5 570,509.0 580,490.5 590,495.5 600,500.2 610,508.1 620,498.5 630,508.1 640,515.3 650,497.2 660,503.2 670,509.1 680,513.8 690,521.0" fill="none" stroke="#E080F0" stroke-width="1" shape-rendering="crispEdges"/>
<path d="M48.5,540h3M50,538.5v3M58.5,495h3M60,493.5v3M68.5,518h3M70,516.5v3M78.5,534h3M80,532.5v3M88.5,536h3M90,534.5v3M98.5,503h3M100,501.5v3M108.5,526h3M110,524.5v3M118.5,504h3M120,502.5v3M128.5,487h3M130,485.5v3M138.5,464h3M140,462.5v3M148.5,488h3M150,486.5v3M158.5,508h3M160,506.5v3M168.5,526h3M170,524.5v3M178.5,511h3M180,509.5v3M188.5,526h3M190,524.5v3M198.5,528h3M200,526.5v3M208.5,533h3M210,531.5v3M218.5,497h3M220,495.5v3M228.5,516h3M230,514.5v3M238.5,530h3M240,528.5v3M248.5,531h3M250,529.5v3M258.5,487h3M260,485.5v3M268.5,508h3M270,506.5v3M278.5,524h3M280,522.5v3M288.5,513h3M290,511.5v3M298.5,479h3M300,477.5v3M308.5,498h3M310,496.5v3M318.5,526h3M320,524.5v3M328.5,522h3M330,520.5v3M338.5,475h3M340,473.5v3M348.5,487h3M350,485.5v3M358.5,513h3M360,511.5v3M368.5,515h3M370,513.5v3M378.5,468h3M380,466.5v3M388.5,480h3M390,478.5v3M398.5,484h3M400,482.5v3M408.5,492h3M410,490.5v3M418.5,492h3M420,490.5v3M428.5,505h3M430,503.5v3M438.5,494h3M440,492.5v3M448.5,511h3M450,509.5v3M458.5,482h3M460,480.5v3M468.5,446h3M470,444.5v3M478.5,500h3M480,498.5v3M488.5,464h3M490,462.5v3M498.5,452h3M500,450.5v3M508.5,482h3M510,480.5v3M518.5,520h3M520,518.5v3M528.5,500h3M530,498.5v3M538.5,471h3M540,469.5v3M548.5,488h3M550,486.5v3M558.5,513h3M560,511.5v3M568.5,509h3M570,507.5v3M578.5,490h3M580,488.5v3M588.5,495h3M590,493.5v3M598.5,500h3M600,498.5v3M608.5,508h3M610,506.5v3M618.5,498h3M620,496.5v3M628.5,508h3M630,506.5v3M638.5,515h3M640,513.5v3M648.5,497h3M650,495.5v3M658.5,503h3M660,501.5v3M668.5,509h3M670,507.5v3M678.5,514h3M680,512.5v3M688.5,521h3M690,519.5v3" stroke="#E080F0" stroke-width="1" fill="none" shape-rendering="crispEdges"/>
<polyline points="50,538.9 60,492.4 70,508.8 80,524.9 90,532.3 100,491.9 110,513.2 120,492.3 130,489.7 140,466.7 150,492.8 160,509.5 170,518.7 180,495.6 190,510.6 200,528.6 210,527.5 220,500.5 230,529.6 240,538.6 250,538.2 260,503.8 270,520.4 280,528.9 290,531.7 300,494.4 310,491.8 320,499.7 330,507.0 340,476.7 350,503.5 360,519.7 370,519.7 380,487.9 390,533.1 400,528.8 410,528.8 420,491.0 430,513.7 440,516.4 450,500.0 460,491.5 470,502.6 480,538.4 490,542.4 500,532.4 510,534.4 520,530.6 530,540.3 540,532.5 550,524.2 560,520.8 570,530.7 580,505.8 590,501.8 600,491.1 610,541.5 620,496.0 630,465.9 640,499.5 650,489.4 660,510.0 670,501.4 680,490.8 690,489.0" fill="none" stroke="#8020F0" stroke-width="1" shape-rendering="crispEdges"/>
<path d="M48.5,539h3M50,537.5v3M58.5,492h3M60,490.5v3M68.5,509h3M70,507.5v3M78.5,525h3M80,523.5v3M88.5,532h3M90,530.5v3M98.5,492h3M100,490.5v3M108.5,513h3M110,511.5v3M118.5,492h3M120,490.5v3M128.5,490h3M130,488.5v3M138.5,467h3M140,465.5v3M148.5,493h3M150,491.5v3M158.5,509h3M160,507.5v3M168.5,519h3M170,517.5v3M178.5,496h3M180,494.5v3M188.5,511h3M190,509.5v3M198.5,529h3M200,527.5v3M208.5,527h3M210,525.5v3M218.5,500h3M220,498.5v3M228.5,530h3M230,528.5v3M238.5,539h3M240,537.5v3M248.5,538h3M250,536.5v3M258.5,504h3M260,502.5v3M268.5,520h3M270,518.5v3M278.5,529h3M280,527.5v3M288.5,532h3M290,530.5v3M298.5,494h3M300,492.5v3M308.5,492h3M310,490.5v3M318.5,500h3M320,498.5v3M328.5,507h3M330,505.5v3M338.5,477h3M340,475.5v3M348.5,503h3M350,501.5v3M358.5,520h3M360,518.5v3M368.5,520h3M370,518.5v3M378.5,488h3M380,486.5v3M388.5,533h3M390,531.5v3M398.5,529h3M400,527.5v3M408.5,529h3M410,527.5v3M418.5,491h3M420,489.5v3M428.5,514h3M430,512.5v3M438.5,516h3M440,514.5v3M448.5,500h3M450,498.5v3M458.5,491h3M460,489.5v3M468.5,503h3M470,501.5v3M478.5,538h3M480,536.5v3M488.5,542h3M490,540.5v3M498.5,532h3M500,530.5v3M508.5,534h3M510,532.5v3M518.5,531h3M520,529.5v3M528.5,540h3M530,538.5v3M538.5,532h3M540,530.5v3M548.5,524h3M550,522.5v3M558.5,521h3M560,519.5v3M568.5,531h3M570,529.5v3M578.5,506h3M580,504.5v3M588.5,502h3M590,500.5v3M598.5,491h3M600,489.5v3M608.5,542h3M610,540.5v3M618.5,496h3M620,494.5v3M628.5,466h3M630,464.5v3M638.5,500h3M640,498.5v3M648.5,489h3M650,487.5v3M658.5,510h3M660,508.5v3M668.5,501h3M670,499.5v3M678.5,491h3M680,489.5v3M688.5,489h3M690,487.5v3" stroke="#8020F0" stroke-width="1" fill="none" shape-rendering="crispEdges"/>
<polyline points="50,541.8 60,499.7 70,523.4 80,528.3 90,529.6 100,498.2 110,514.3 120,485.0 130,492.4 140,462.8 150,481.8 160,498.8 170,518.0 180,489.8 190,506.1 200,519.7 210,532.3 220,493.6 230,521.6 240,542.5 250,540.6 260,505.6 270,522.4 280,530.1 290,520.8 300,479.9 310,505.8 320,543.6 330,506.4 340,472.3 350,500.7 360,519.1 370,511.3 380,487.9 390,501.0 400,502.9 410,512.1 420,474.6 430,499.5 440,476.4 450,481.6 460,447.7 470,436.1 480,475.0 490,501.2 500,496.5 510,508.2 520,519.4 530,520.4 540,496.3 550,507.5 560,513.4 570,510.0 580,497.7 590,532.9 600,517.6 610,517.7 620,529.9 630,527.9 640,518.7 650,510.7 660,501.8 670,495.5 680,513.2 690,488.9" fill="none" stroke="#806020" stroke-width="1" shape-rendering="crispEdges"/>
<path d="M48.5,542h3M50,540.5v3M58.5,500h3M60,498.5v3M68.5,523h3M70,521.5v3M78.5,528h3M80,526.5v3M88.5,530h3M90,528.5v3M98.5,498h3M100,496.5v3M108.5,514h3M110,512.5v3M118.5,485h3M120,483.5v3M128.5,492h3M130,490.5v3M138.5,463h3M140,461.5v3M148.5,482h3M150,480.5v3M158.5,499h3M160,497.5v3M168.5,518h3M170,516.5v3M178.5,490h3M180,488.5v3M188.5,506h3M190,504.5v3M198.5,520h3M200,518.5v3M208.5,532h3M210,530.5v3M218.5,494h3M220,492.5v3M228.5,522h3M230,520.5v3M238.5,543h3M240,541.5v3M248.5,541h3M250,539.5v3M258.5,506h3M260,504.5v3M268.5,522h3M270,520.5v3M278.5,530h3M280,528.5v3M288.5,521h3M290,519.5v3M298.5,480h3M300,478.5v3M308.5,506h3M310,504.5v3M318.5,544h3M320,542.5v3M328.5,506h3M330,504.5v3M338.5,472h3M340,470.5v3M348.5,501h3M350,499.5v3M358.5,519h3M360,517.5v3M368.5,511h3M370,509.5v3M378.5,488h3M380,486.5v3M388.5,501h3M390,499.5v3M398.5,503h3M400,501.5v3M408.5,512h3M410,510.5v3M418.5,475h3M420,473.5v3M428.5,500h3M430,498.5v3M438.5,476h3M440,474.5v3M448.5,482h3M450,480.5v3M458.5,448h3M460,446.5v3M468.5,436h3M470,434.5v3M478.5,475h3M480,473.5v3M488.5,501h3M490,499.5v3M498.5,497h3M500,495.5v3M508.5,508h3M510,506.5v3M518.5,519h3M520,517.5v3M528.5,520h3M530,518.5v3M538.5,496h3M540,494.5v3M548.5,508h3M550,506.5v3M558.5,513h3M560,511.5v3M568.5,510h3M570,508.5v3M578.5,498h3M580,496.5v3M588.5,533h3M590,531.5v3M598.5,518h3M600,516.5v3M608.5,518h3M610,516.5v3M618.5,530h3M620,528.5v3M628.5,528h3M630,526.5v3M638.5,519h3M640,517.5v3M648.5,511h3M650,509.5v3M658.5,502h3M660,500.5v3M668.5,496h3M670,494.5v3M678.5,513h3M680,511.5v3M688.5,489h3M690,487.5v3" stroke="#806020" stroke-width="1" fill="none" shape-rendering="crispEdges"/>
<polyline points="50,538.9 60,495.6 70,522.3 80,527.0 90,527.1 100,488.2 110,509.0 120,490.6 130,495.8 140,471.1 150,483.8 160,490.8 170,504.4 180,496.0 190,512.2 200,524.6 210,534.3 220,497.0 230,514.9 240,528.6 250,530.7 260,502.2 270,508.8 280,524.0 290,516.5 300,492.0 310,482.0 320,489.4 330,478.5 340,496.4 350,505.8 360,517.8 370,501.6 380,487.6 390,518.8 400,516.1 410,508.5 420,478.2 430,518.4 440,515.1 450,509.8 460,474.8 470,497.1 480,512.9 490,506.7 500,494.4 510,537.8 520,521.4 530,517.3 540,497.3 550,497.3 560,517.6 570,513.5 580,508.3 590,505.1 600,506.5 610,503.0 620,485.5 630,499.5 640,488.6 650,496.0 660,476.4 670,486.2 680,503.0 690,522.5" fill="none" stroke="#301070" stroke-width="1" shape-rendering="crispEdges"/>
<path d="M48.5,539h3M50,537.5v3M58.5,496h3M60,494.5v3M68.5,522h3M70,520.5v3M78.5,527h3M80,525.5v3M88.5,527h3M90,525.5v3M98.5,488h3M100,486.5v3M108.5,509h3M110,507.5v3M118.5,491h3M120,489.5v3M128.5,496h3M130,494.5v3M138.5,471h3M140,469.5v3M148.5,484h3M150,482.5v3M158.5,491h3M160,489.5v3M168.5,504h3M170,502.5v3M178.5,496h3M180,494.5v3M188.5,512h3M190,510.5v3M198.5,525h3M200,523.5v3M208.5,534h3M210,532.5v3M218.5,497h3M220,495.5v3M228.5,515h3M230,513.5v3M238.5,529h3M240,527.5v3M248.5,531h3M250,529.5v3M258.5,502h3M260,500.5v3M268.5,509h3M270,507.5v3M278.5,524h3M280,522.5v3M288.5,517h3M290,515.5v3M298.5,492h3M300,490.5v3M308.5,482h3M310,480.5v3M318.5,489h3M320,487.5v3M328.5,478h3M330,476.5v3M338.5,496h3M340,494.5v3M348.5,506h3M350,504.5v3M358.5,518h3M360,516.5v3M368.5,502h3M370,500.5v3M378.5,488h3M380,486.5v3M388.5,519h3M390,517.5v3M398.5,516h3M400,514.5v3M408.5,508h3M410,506.5v3M418.5,478h3M420,476.5v3M428.5,518h3M430,516.5v3M438.5,515h3M440,513.5v3M448.5,510h3M450,508.5v3M458.5,475h3M460,473.5v3M468.5,497h3M470,495.5v3M478.5,513h3M480,511.5v3M488.5,507h3M490,505.5v3M498.5,494h3M500,492.5v3M508.5,538h3M510,536.5v3M518.5,521h3M520,519.5v3M528.5,517h3M530,515.5v3M538.5,497h3M540,495.5v3M548.5,497h3M550,495.5v3M558.5,518h3M560,516.5v3M568.5,513h3M570,511.5v3M578.5,508h3M580,506.5v3M588.5,505h3M590,503.5v3M598.5,506h3M600,504.5v3M608.5,503h3M610,501.5v3M618.5,486h3M620,484.5v3M628.5,500h3M630,498.5v3M638.5,489h3M640,487.5v3M648.5,496h3M650,494.5v3M658.5,476h3M660,474.5v3M668.5,486h3M670,484.5v3M678.5,503h3M680,501.5v3M688.5,523h3M690,521.5v3" stroke="#301070" stroke-width="1" fill="none" shape-rendering="crispEdges"/>
<polyline points="50,537.5 60,494.0 70,512.4 80,527.2 90,529.6 100,498.8 110,515.2 120,498.1 130,473.2 140,451.2 150,499.9 160,531.0 170,524.0 180,501.8 190,509.8 200,512.6 210,532.8 220,508.3 230,526.1 240,541.2 250,534.1 260,495.0 270,531.5 280,532.9 290,535.2 300,482.8 310,514.7 320,533.3 330,526.4 340,498.9 350,501.2 360,515.9 370,516.8 380,482.7 390,515.1 400,524.7 410,495.3 420,459.9 430,484.1 440,534.4 450,530.9 460,539.9 470,529.2 480,524.1 490,514.1 500,494.2 510,510.2 520,540.7 530,531.8 540,495.2 550,500.9 560,498.5 570,478.5 580,485.1 590,504.5 600,510.4 610,498.5 620,492.1 630,458.6 640,492.5 650,510.0 660,499.8 670,517.1 680,535.7 690,519.5" fill="none" stroke="#F0D010" stroke-width="1" shape-rendering="crispEdges"/>
<path d="M48.5,537h3M50,535.5v3M58.5,494h3M60,492.5v3M68.5,512h3M70,510.5v3M78.5,527h3M80,525.5v3M88.5,530h3M90,528.5v3M98.5,499h3M100,497.5v3M108.5,515h3M110,513.5v3M118.5,498h3M120,496.5v3M128.5,473h3M130,471.5v3M138.5,451h3M140,449.5v3M148.5,500h3M150,498.5v3M158.5,531h3M160,529.5v3M168.5,524h3M170,522.5v3M178.5,502h3M180,500.5v3M188.5,510h3M190,508.5v3M198.5,513h3M200,511.5v3M208.5,533h3M210,531.5v3M218.5,508h3M220,506.5v3M228.5,526h3M230,524.5v3M238.5,541h3M240,539.5v3M248.5,534h3M250,532.5v3M258.5,495h3M260,493.5v3M268.5,531h3M270,529.5v3M278.5,533h3M280,531.5v3M288.5,535h3M290,533.5v3M298.5,483h3M300,481.5v3M308.5,515h3M310,513.5v3M318.5,533h3M320,531.5v3M328.5,526h3M330,524.5v3M338.5,499h3M340,497.5v3M348.5,501h3M350,499.5v3M358.5,516h3M360,514.5v3M368.5,517h3M370,515.5v3M378.5,483h3M380,481.5v3M388.5,515h3M390,513.5v3M398.5,525h3M400,523.5v3M408.5,495h3M410,493.5v3M418.5,460h3M420,458.5v3M428.5,484h3M430,482.5v3M438.5,534h3M440,532.5v3M448.5,531h3M450,529.5v3M458.5,540h3M460,538.5v3M468.5,529h3M470,527.5v3M478.5,524h3M480,522.5v3M488.5,514h3M490,512.5v3M498.5,494h3M500,492.5v3M508.5,510h3M510,508.5v3M518.5,541h3M520,539.5v3M528.5,532h3M530,530.5v3M538.5,495h3M540,493.5v3M548.5,501h3M550,499.5v3M558.5,499h3M560,497.5v3M568.5,479h3M570,477.5v3M578.5,485h3M580,483.5v3M588.5,504h3M590,502.5v3M598.5,510h3M600,508.5v3M608.5,498h3M610,496.5v3M618.5,492h3M620,490.5v3M628.5,459h3M630,457.5v3M638.5,492h3M640,490.5v3M648.5,510h3M650,508.5v3M658.5,500h3M660,498.5v3M668.5,517h3M670,515.5v3M678.5,536h3M680,534.5v3M688.5,520h3M690,518.5v3" stroke="#F0D010" stroke-width="1" fill="none" shape-rendering="crispEdges"/>
<polyline points="50,537.1 60,496.2 70,513.0 80,516.1 90,519.9 100,492.5 110,490.8 120,483.8 130,478.5 140,461.1 150,483.6 160,510.6 170,518.3 180,496.1 190,510.3 200,523.2 210,516.5 220,486.3 230,515.1 240,529.8 250,524.7 260,489.2 270,508.4 280,517.3 290,508.5 300,505.8 310,523.3 320,539.4 330,532.0 340,478.2 350,482.5 360,518.7 370,513.6 380,476.2 390,510.8 400,531.0 410,516.6 420,494.6 430,508.3 440,516.2 450,519.9 460,491.9 470,498.6 480,518.8 490,515.9 500,498.2 510,507.6 520,489.1 530,512.9 540,496.1 550,494.8 560,514.2 570,498.3 580,520.5 590,505.2 600,520.6 610,526.3 620,500.0 630,513.5 640,502.9 650,505.3 660,480.9 670,507.6 680,504.8 690,499.3" fill="none" stroke="#2060A0" stroke-width="1" shape-rendering="crispEdges"/>
<path d="M48.5,537h3M50,535.5v3M58.5,496h3M60,494.5v3M68.5,513h3M70,511.5v3M78.5,516h3M80,514.5v3M88.5,520h3M90,518.5v3M98.5,492h3M100,490.5v3M108.5,491h3M110,489.5v3M118.5,484h3M120,482.5v3M128.5,478h3M130,476.5v3M138.5,461h3M140,459.5v3M148.5,484h3M150,482.5v3M158.5,511h3M160,509.5v3M168.5,518h3M170,516.5v3M178.5,496h3M180,494.5v3M188.5,510h3M190,508.5v3M198.5,523h3M200,521.5v3M208.5,517h3M210,515.5v3M218.5,486h3M220,484.5v3M228.5,515h3M230,513.5v3M238.5,530h3M240,528.5v3M248.5,525h3M250,523.5v3M258.5,489h3M260,487.5v3M268.5,508h3M270,506.5v3M278.5,517h3M280,515.5v3M288.5,508h3M290,506.5v3M298.5,506h3M300,504.5v3M308.5,523h3M310,521.5v3M318.5,539h3M320,537.5v3M328.5,532h3M330,530.5v3M338.5,478h3M340,476.5v3M348.5,483h3M350,481.5v3M358.5,519h3M360,517.5v3M368.5,514h3M370,512.5v3M378.5,476h3M380,474.5v3M388.5,511h3M390,509.5v3M398.5,531h3M400,529.5v3M408.5,517h3M410,515.5v3M418.5,495h3M420,493.5v3M428.5,508h3M430,506.5v3M438.5,516h3M440,514.5v3M448.5,520h3M450,518.5v3M458.5,492h3M460,490.5v3M468.5,499h3M470,497.5v3M478.5,519h3M480,517.5v3M488.5,516h3M490,514.5v3M498.5,498h3M500,496.5v3M508.5,508h3M510,506.5v3M518.5,489h3M520,487.5v3M528.5,513h3M530,511.5v3M538.5,496h3M540,494.5v3M548.5,495h3M550,493.5v3M558.5,514h3M560,512.5v3M568.5,498h3M570,496.5v3M578.5,520h3M580,518.5v3M588.5,505h3M590,503.5v3M598.5,521h3M600,519.5v3M608.5,526h3M610,524.5v3M618.5,500h3M620,498.5v3M628.5,514h3M630,512.5v3M638.5,503h3M640,501.5v3M648.5,505h3M650,503.5v3M658.5,481h3M660,479.5v3M668.5,508h3M670,506.5v3M678.5,505h3M680,503.5v3M688.5,499h3M690,497.5v3" stroke="#2060A0" stroke-width="1" fill="none" shape-rendering="crispEdges"/>
<polyline points="50,539.8 60,491.6 70,511.6 80,527.9 90,531.3 100,495.4 110,515.2 120,492.5 130,479.9 140,463.7 150,485.0 160,502.7 170,517.0 180,483.1 190,503.0 200,524.8 210,538.7 220,512.4 230,533.5 240,537.5 250,541.9 260,499.0 270,529.6 280,534.5 290,527.1 300,505.3 310,504.0 320,528.0 330,515.3 340,482.0 350,501.8 360,520.4 370,525.8 380,493.5 390,508.0 400,533.3 410,518.5 420,518.3 430,532.9 440,506.5 450,512.8 460,508.8 470,497.7 480,526.1 490,536.4 500,524.3 510,508.2 520,518.8 530,519.0 540,514.7 550,530.7 560,512.8 570,509.2 580,527.8 590,529.9 600,538.4 610,512.9 620,512.5 630,516.9 640,517.5 650,517.7 660,496.0 670,480.6 680,488.3 690,499.5" fill="none" stroke="#905020" stroke-width="1" shape-rendering="crispEdges"/>
<path d="M48.5,540h3M50,538.5v3M58.5,492h3M60,490.5v3M68.5,512h3M70,510.5v3M78.5,528h3M80,526.5v3M88.5,531h3M90,529.5v3M98.5,495h3M100,493.5v3M108.5,515h3M110,513.5v3M118.5,492h3M120,490.5v3M128.5,480h3M130,478.5v3M138.5,464h3M140,462.5v3M148.5,485h3M150,483.5v3M158.5,503h3M160,501.5v3M168.5,517h3M170,515.5v3M178.5,483h3M180,481.5v3M188.5,503h3M190,501.5v3M198.5,525h3M200,523.5v3M208.5,539h3M210,537.5v3M218.5,512h3M220,510.5v3M228.5,533h3M230,531.5v3M238.5,537h3M240,535.5v3M248.5,542h3M250,540.5v3M258.5,499h3M260,497.5v3M268.5,530h3M270,528.5v3M278.5,534h3M280,532.5v3M288.5,527h3M290,525.5v3M298.5,505h3M300,503.5v3M308.5,504h3M310,502.5v3M318.5,528h3M320,526.5v3M328.5,515h3M330,513.5v3M338.5,482h3M340,480.5v3M348.5,502h3M350,500.5v3M358.5,520h3M360,518.5v3M368.5,526h3M370,524.5v3M378.5,493h3M380,491.5v3M388.5,508h3M390,506.5v3M398.5,533h3M400,531.5v3M408.5,519h3M410,517.5v3M418.5,518h3M420,516.5v3M428.5,533h3M430,531.5v3M438.5,506h3M440,504.5v3M448.5,513h3M450,511.5v3M458.5,509h3M460,507.5v3M468.5,498h3M470,496.5v3M478.5,526h3M480,524.5v3M488.5,536h3M490,534.5v3M498.5,524h3M500,522.5v3M508.5,508h3M510,506.5v3M518.5,519h3M520,517.5v3M528.5,519h3M530,517.5v3M538.5,515h3M540,513.5v3M548.5,531h3M550,529.5v3M558.5,513h3M560,511.5v3M568.5,509h3M570,507.5v3M578.5,528h3M580,526.5v3M588.5,530h3M590,528.5v3M598.5,538h3M600,536.5v3M608.5,513h3M610,511.5v3M618.5,512h3M620,510.5v3M628.5,517h3M630,515.5v3M638.5,518h3M640,516.5v3M648.5,518h3M650,516.5v3M658.5,496h3M660,494.5v3M668.5,481h3M670,479.5v3M678.5,488h3M680,486.5v3M688.5,500h3M690,498.5v3" stroke="#905020" stroke-width="1" fill="none" shape-rendering="crispEdges"/>
<polyline points="50,539.0 60,500.3 70,521.3 80,529.3 90,529.4 100,497.6 110,516.0 120,491.3 130,486.2 140,463.8 150,492.0 160,516.1 170,522.2 180,512.6 190,527.9 200,537.4 210,542.7 220,514.6 230,506.5 240,510.0 250,525.8 260,496.3 270,490.1 280,492.5 290,503.0 300,469.6 310,498.0 320,511.5 330,505.5 340,473.8 350,501.2 360,508.2 370,522.2 380,500.4 390,527.9 400,515.7 410,519.8 420,503.1 430,529.7 440,537.0 450,542.4 460,503.0 470,466.9 480,496.0 490,533.6 500,502.3 510,515.3 520,520.1 530,518.8 540,495.7 550,537.9 560,529.3 570,533.5 580,500.0 590,527.1 600,533.2 610,533.4 620,517.5 630,508.2 640,520.0 650,515.6 660,525.7 670,540.1 680,514.5 690,515.5" fill="none" stroke="#9080F0" stroke-width="1" shape-rendering="crispEdges"/>
<path d="M48.5,539h3M50,537.5v3M58.5,500h3M60,498.5v3M68.5,521h3M70,519.5v3M78.5,529h3M80,527.5v3M88.5,529h3M90,527.5v3M98.5,498h3M100,496.5v3M108.5,516h3M110,514.5v3M118.5,491h3M120,489.5v3M128.5,486h3M130,484.5v3M138.5,464h3M140,462.5v3M148.5,492h3M150,490.5v3M158.5,516h3M160,514.5v3M168.5,522h3M170,520.5v3M178.5,513h3M180,511.5v3M188.5,528h3M190,526.5v3M198.5,537h3M200,535.5v3M208.5,543h3M210,541.5v3M218.5,515h3M220,513.5v3M228.5,506h3M230,504.5v3M238.5,510h3M240,508.5v3M248.5,526h3M250,524.5v3M258.5,496h3M260,494.5v3M268.5,490h3M270,488.5v3M278.5,492h3M280,490.5v3M288.5,503h3M290,501.5v3M298.5,470h3M300,468.5v3M308.5,498h3M310,496.5v3M318.5,511h3M320,509.5v3M328.5,505h3M330,503.5v3M338.5,474h3M340,472.5v3M348.5,501h3M350,499.5v3M358.5,508h3M360,506.5v3M368.5,522h3M370,520.5v3M378.5,500h3M380,498.5v3M388.5,528h3M390,526.5v3M398.5,516h3M400,514.5v3M408.5,520h3M410,518.5v3M418.5,503h3M420,501.5v3M428.5,530h3M430,528.5v3M438.5,537h3M440,535.5v3M448.5,542h3M450,540.5v3M458.5,503h3M460,501.5v3M468.5,467h3M470,465.5v3M478.5,496h3M480,494.5v3M488.5,534h3M490,532.5v3M498.5,502h3M500,500.5v3M508.5,515h3M510,513.5v3M518.5,520h3M520,518.5v3M528.5,519h3M530,517.5v3M538.5,496h3M540,494.5v3M548.5,538h3M550,536.5v3M558.5,529h3M560,527.5v3M568.5,534h3M570,532.5v3M578.5,500h3M580,498.5v3M588.5,527h3M590,525.5v3M598.5,533h3M600,531.5v3M608.5,533h3M610,531.5v3M618.5,518h3M620,516.5v3M628.5,508h3M630,506.5v3M638.5,520h3M640,518.5v3M648.5,516h3M650,514.5v3M658.5,526h3M660,524.5v3M668.5,540h3M670,538.5v3M678.5,515h3M680,513.5v3M688.5,515h3M690,513.5v3" stroke="#9080F0" stroke-width="1" fill="none" shape-rendering="crispEdges"/>
<polyline points="50,539.0 60,494.8 70,518.4 80,526.8 90,530.9 100,494.6 110,515.1 120,513.4 130,506.3 140,464.9 150,489.9 160,506.8 170,518.8 180,497.7 190,516.3 200,526.2 210,533.8 220,488.7 230,514.6 240,518.8 250,523.1 260,476.5 270,499.7 280,515.0 290,518.4 300,478.2 310,501.0 320,513.9 330,513.6 340,468.0 350,492.9 360,519.0 370,540.4 380,506.2 390,513.5 400,541.1 410,524.0 420,535.9 430,533.1 440,513.5 450,496.1 460,469.9 470,495.7 480,497.9 490,503.9 500,493.2 510,507.1 520,520.7 530,494.2 540,454.4 550,476.4 560,460.3 570,432.3 580,461.0 590,492.5 600,513.5 610,515.6 620,501.9 630,489.7 640,516.7 650,508.3 660,499.8 670,511.5 680,528.5 690,517.2" fill="none" stroke="#A0F040" stroke-width="1" shape-rendering="crispEdges"/>
<path d="M48.5,539h3M50,537.5v3M58.5,495h3M60,493.5v3M68.5,518h3M70,516.5v3M78.5,527h3M80,525.5v3M88.5,531h3M90,529.5v3M98.5,495h3M100,493.5v3M108.5,515h3M110,513.5v3M118.5,513h3M120,511.5v3M128.5,506h3M130,504.5v3M138.5,465h3M140,463.5v3M148.5,490h3M150,488.5v3M158.5,507h3M160,505.5v3M168.5,519h3M170,517.5v3M178.5,498h3M180,496.5v3M188.5,516h3M190,514.5v3M198.5,526h3M200,524.5v3M208.5,534h3M210,532.5v3M218.5,489h3M220,487.5v3M228.5,515h3M230,513.5v3M238.5,519h3M240,517.5v3M248.5,523h3M250,521.5v3M258.5,476h3M260,474.5v3M268.5,500h3M270,498.5v3M278.5,515h3M280,513.5v3M288.5,518h3M290,516.5v3M298.5,478h3M300,476.5v3M308.5,501h3M310,499.5v3M318.5,514h3M320,512.5v3M328.5,514h3M330,512.5v3M338.5,468h3M340,466.5v3M348.5,493h3M350,491.5v3M358.5,519h3M360,517.5v3M368.5,540h3M370,538.5v3M378.5,506h3M380,504.5v3M388.5,514h3M390,512.5v3M398.5,541h3M400,539.5v3M408.5,524h3M410,522.5v3M418.5,536h3M420,534.5v3M428.5,533h3M430,531.5v3M438.5,514h3M440,512.5v3M448.5,496h3M450,494.5v3M458.5,470h3M460,468.5v3M468.5,496h3M470,494.5v3M478.5,498h3M480,496.5v3M488.5,504h3M490,502.5v3M498.5,493h3M500,491.5v3M508.5,507h3M510,505.5v3M518.5,521h3M520,519.5v3M528.5,494h3M530,492.5v3M538.5,454h3M540,452.5v3M548.5,476h3M550,474.5v3M558.5,460h3M560,458.5v3M568.5,432h3M570,430.5v3M578.5,461h3M580,459.5v3M588.5,492h3M590,490.5v3M598.5,514h3M600,512.5v3M608.5,516h3M610,514.5v3M618.5,502h3M620,500.5v3M628.5,490h3M630,488.5v3M638.5,517h3M640,515.5v3M648.5,508h3M650,506.5v3M658.5,500h3M660,498.5v3M668.5,512h3M670,510.5v3M678.5,528h3M680,526.5v3M688.5,517h3M690,515.5v3" stroke="#A0F040" stroke-width="1" fill="none" shape-rendering="crispEdges"/>
<polyline points="50,539.0 60,497.0 70,516.7 80,520.2 90,523.5 100,499.5 110,525.8 120,533.8 130,503.0 140,460.3 150,486.1 160,505.9 170,521.5 180,510.7 190,515.1 200,504.4 210,524.0 220,521.5 230,531.5 240,536.4 250,537.1 260,490.3 270,510.3 280,536.1 290,519.9 300,476.0 310,517.3 320,507.6 330,498.3 340,465.1 350,520.5 360,535.8 370,532.2 380,486.8 390,516.9 400,535.8 410,541.1 420,514.9 430,509.9 440,542.5 450,536.3 460,497.1 470,485.0 480,501.5 490,514.2 500,504.8 510,528.0 520,527.3 530,525.0 540,511.7 550,491.6 560,505.4 570,518.8 580,495.3 590,498.1 600,513.2 610,519.0 620,533.5 630,534.9 640,521.6 650,528.4 660,529.1 670,513.1 680,517.6 690,514.9" fill="none" stroke="#D070D0" stroke-width="1" shape-rendering="crispEdges"/>
<path d="M48.5,539h3M50,537.5v3M58.5,497h3M60,495.5v3M68.5,517h3M70,515.5v3M78.5,520h3M80,518.5v3M88.5,524h3M90,522.5v3M98.5,500h3M100,498.5v3M108.5,526h3M110,524.5v3M118.5,534h3M120,532.5v3M128.5,503h3M130,501.5v3M138.5,460h3M140,458.5v3M148.5,486h3M150,484.5v3M158.5,506h3M160,504.5v3M168.5,522h3M170,520.5v3M178.5,511h3M180,509.5v3M188.5,515h3M190,513.5v3M198.5,504h3M200,502.5v3M208.5,524h3M210,522.5v3M218.5,522h3M220,520.5v3M228.5,532h3M230,530.5v3M238.5,536h3M240,534.5v3M248.5,537h3M250,535.5v3M258.5,490h3M260,488.5v3M268.5,510h3M270,508.5v3M278.5,536h3M280,534.5v3M288.5,520h3M290,518.5v3M298.5,476h3M300,474.5v3M308.5,517h3M310,515.5v3M318.5,508h3M320,506.5v3M328.5,498h3M330,496.5v3M338.5,465h3M340,463.5v3M348.5,520h3M350,518.5v3M358.5,536h3M360,534.5v3M368.5,532h3M370,530.5v3M378.5,487h3M380,485.5v3M388.5,517h3M390,515.5v3M398.5,536h3M400,534.5v3M408.5,541h3M410,539.5v3M418.5,515h3M420,513.5v3M428.5,510h3M430,508.5v3M438.5,542h3M440,540.5v3M448.5,536h3M450,534.5v3M458.5,497h3M460,495.5v3M468.5,485h3M470,483.5v3M478.5,502h3M480,500.5v3M488.5,514h3M490,512.5v3M498.5,505h3M500,503.5v3M508.5,528h3M510,526.5v3M518.5,527h3M520,525.5v3M528.5,525h3M530,523.5v3M538.5,512h3M540,510.5v3M548.5,492h3M550,490.5v3M558.5,505h3M560,503.5v3M568.5,519h3M570,517.5v3M578.5,495h3M580,493.5v3M588.5,498h3M590,496.5v3M598.5,513h3M600,511.5v3M608.5,519h3M610,517.5v3M618.5,533h3M620,531.5v3M628.5,535h3M630,533.5v3M638.5,522h3M640,520.5v3M648.5,528h3M650,526.5v3M658.5,529h3M660,527.5v3M668.5,513h3M670,511.5v3M678.5,518h3M680,516.5v3M688.5,515h3M690,513.5v3" stroke="#D070D0" stroke-width="1" fill="none" shape-rendering="crispEdges"/>
<polyline points="50,536.5 60,494.9 70,512.6 80,529.9 90,529.6 100,495.0 110,515.2 120,488.4 130,485.9 140,461.8 150,477.0 160,505.1 170,518.7 180,500.6 190,519.1 200,529.7 210,535.5 220,483.5 230,504.0 240,523.6 250,530.6 260,492.8 270,515.2 280,525.8 290,528.6 300,472.2 310,497.7 320,505.4 330,531.9 340,489.4 350,507.2 360,519.1 370,520.1 380,485.3 390,503.0 400,538.4 410,531.0 420,521.9 430,520.9 440,517.9 450,516.8 460,516.4 470,506.5 480,504.6 490,491.2 500,488.2 510,481.6 520,520.1 530,535.8 540,475.0 550,462.4 560,492.5 570,503.0 580,485.5 590,466.9 600,496.0 610,514.8 620,503.2 630,497.6 640,494.2 650,516.4 660,499.3 670,508.2 680,513.6 690,526.0" fill="none" stroke="#2000A0" stroke-width="1" shape-rendering="crispEdges"/>
<path d="M48.5,537h3M50,535.5v3M58.5,495h3M60,493.5v3M68.5,513h3M70,511.5v3M78.5,530h3M80,528.5v3M88.5,530h3M90,528.5v3M98.5,495h3M100,493.5v3M108.5,515h3M110,513.5v3M118.5,488h3M120,486.5v3M128.5,486h3M130,484.5v3M138.5,462h3M140,460.5v3M148.5,477h3M150,475.5v3M158.5,505h3M160,503.5v3M168.5,519h3M170,517.5v3M178.5,501h3M180,499.5v3M188.5,519h3M190,517.5v3M198.5,530h3M200,528.5v3M208.5,536h3M210,534.5v3M218.5,484h3M220,482.5v3M228.5,504h3M230,502.5v3M238.5,524h3M240,522.5v3M248.5,531h3M250,529.5v3M258.5,493h3M260,491.5v3M268.5,515h3M270,513.5v3M278.5,526h3M280,524.5v3M288.5,529h3M290,527.5v3M298.5,472h3M300,470.5v3M308.5,498h3M310,496.5v3M318.5,505h3M320,503.5v3M328.5,532h3M330,530.5v3M338.5,489h3M340,487.5v3M348.5,507h3M350,505.5v3M358.5,519h3M360,517.5v3M368.5,520h3M370,518.5v3M378.5,485h3M380,483.5v3M388.5,503h3M390,501.5v3M398.5,538h3M400,536.5v3M408.5,531h3M410,529.5v3M418.5,522h3M420,520.5v3M428.5,521h3M430,519.5v3M438.5,518h3M440,516.5v3M448.5,517h3M450,515.5v3M458.5,516h3M460,514.5v3M468.5,506h3M470,504.5v3M478.5,505h3M480,503.5v3M488.5,491h3M490,489.5v3M498.5,488h3M500,486.5v3M508.5,482h3M510,480.5v3M518.5,520h3M520,518.5v3M528.5,536h3M530,534.5v3M538.5,475h3M540,473.5v3M548.5,462h3M550,460.5v3M558.5,492h3M560,490.5v3M568.5,503h3M570,501.5v3M578.5,486h3M580,484.5v3M588.5,467h3M590,465.5v3M598.5,496h3M600,494.5v3M608.5,515h3M610,513.5v3M618.5,503h3M620,501.5v3M628.5,498h3M630,496.5v3M638.5,494h3M640,492.5v3M648.5,516h3M650,514.5v3M658.5,499h3M660,497.5v3M668.5,508h3M670,506.5v3M678.5,514h3M680,512.5v3M688.5,526h3M690,524.5v3" stroke="#2000A0" stroke-width="1" fill="none" shape-rendering="crispEdges"/>
<polyline points="50,543.7 60,498.5 70,516.0 80,528.8 90,535.2 100,501.8 110,524.4 120,519.0 130,508.7 140,466.0 150,488.2 160,505.7 170,516.3 180,496.0 190,511.1 200,524.7 210,531.8 220,497.0 230,515.3 240,530.7 250,535.0 260,479.1 270,504.8 280,521.7 290,501.6 300,458.2 310,497.3 320,510.5 330,495.4 340,452.3 350,477.7 360,501.5 370,524.4 380,463.4 390,478.5 400,489.0 410,521.3 420,496.4 430,516.0 440,519.0 450,513.8 460,492.4 470,511.2 480,509.0 490,542.2 500,520.5 510,542.2 520,505.3 530,507.7 540,480.5 550,503.4 560,512.1 570,494.6 580,501.7 590,492.2 600,485.3 610,488.5 620,503.0 630,486.2 640,503.0 650,516.3 660,511.3 670,508.4 680,541.5 690,514.1" fill="none" stroke="#E0C8A0" stroke-width="1" shape-rendering="crispEdges"/>
<path d="M48.5,544h3M50,542.5v3M58.5,499h3M60,497.5v3M68.5,516h3M70,514.5v3M78.5,529h3M80,527.5v3M88.5,535h3M90,533.5v3M98.5,502h3M100,500.5v3M108.5,524h3M110,522.5v3M118.5,519h3M120,517.5v3M128.5,509h3M130,507.5v3M138.5,466h3M140,464.5v3M148.5,488h3M150,486.5v3M158.5,506h3M160,504.5v3M168.5,516h3M170,514.5v3M178.5,496h3M180,494.5v3M188.5,511h3M190,509.5v3M198.5,525h3M200,523.5v3M208.5,532h3M210,530.5v3M218.5,497h3M220,495.5v3M228.5,515h3M230,513.5v3M238.5,531h3M240,529.5v3M248.5,535h3M250,533.5v3M258.5,479h3M260,477.5v3M268.5,505h3M270,503.5v3M278.5,522h3M280,520.5v3M288.5,502h3M290,500.5v3M298.5,458h3M300,456.5v3M308.5,497h3M310,495.5v3M318.5,511h3M320,509.5v3M328.5,495h3M330,493.5v3M338.5,452h3M340,450.5v3M348.5,478h3M350,476.5v3M358.5,502h3M360,500.5v3M368.5,524h3M370,522.5v3M378.5,463h3M380,461.5v3M388.5,478h3M390,476.5v3M398.5,489h3M400,487.5v3M408.5,521h3M410,519.5v3M418.5,496h3M420,494.5v3M428.5,516h3M430,514.5v3M438.5,519h3M440,517.5v3M448.5,514h3M450,512.5v3M458.5,492h3M460,490.5v3M468.5,511h3M470,509.5v3M478.5,509h3M480,507.5v3M488.5,542h3M490,540.5v3M498.5,520h3M500,518.5v3M508.5,542h3M510,540.5v3M518.5,505h3M520,503.5v3M528.5,508h3M530,506.5v3M538.5,481h3M540,479.5v3M548.5,503h3M550,501.5v3M558.5,512h3M560,510.5v3M568.5,495h3M570,493.5v3M578.5,502h3M580,500.5v3M588.5,492h3M590,490.5v3M598.5,485h3M600,483.5v3M608.5,489h3M610,487.5v3M618.5,503h3M620,501.5v3M628.5,486h3M630,484.5v3M638.5,503h3M640,501.5v3M648.5,516h3M650,514.5v3M658.5,511h3M660,509.5v3M668.5,508h3M670,506.5v3M678.5,542h3M680,540.5v3M688.5,514h3M690,512.5v3" stroke="#E0C8A0" stroke-width="1" fill="none" shape-rendering="crispEdges"/>
<polyline points="50,538.4 60,489.6 70,511.1 80,524.0 90,526.1 100,492.8 110,515.3 120,494.1 130,487.6 140,465.4 150,489.4 160,505.6 170,523.8 180,497.0 190,511.6 200,522.3 210,537.8 220,499.3 230,513.5 240,529.1 250,530.6 260,491.8 270,511.3 280,524.0 290,511.1 300,474.3 310,498.1 320,513.1 330,507.8 340,485.4 350,485.5 360,493.9 370,495.6 380,473.2 390,533.8 400,503.0 410,478.5 420,453.3 430,463.4 440,489.0 450,492.1 460,505.4 470,501.0 480,513.5 490,520.2 500,494.0 510,522.4 520,523.3 530,521.3 540,489.8 550,504.0 560,513.2 570,516.8 580,497.7 590,488.3 600,513.8 610,513.7 620,510.2 630,507.5 640,506.2 650,513.9 660,504.9 670,508.0 680,507.3 690,503.3" fill="none" stroke="#800010" stroke-width="1" shape-rendering="crispEdges"/>
<path d="M48.5,538h3M50,536.5v3M58.5,490h3M60,488.5v3M68.5,511h3M70,509.5v3M78.5,524h3M80,522.5v3M88.5,526h3M90,524.5v3M98.5,493h3M100,491.5v3M108.5,515h3M110,513.5v3M118.5,494h3M120,492.5v3M128.5,488h3M130,486.5v3M138.5,465h3M140,463.5v3M148.5,489h3M150,487.5v3M158.5,506h3M160,504.5v3M168.5,524h3M170,522.5v3M178.5,497h3M180,495.5v3M188.5,512h3M190,510.5v3M198.5,522h3M200,520.5v3M208.5,538h3M210,536.5v3M218.5,499h3M220,497.5v3M228.5,514h3M230,512.5v3M238.5,529h3M240,527.5v3M248.5,531h3M250,529.5v3M258.5,492h3M260,490.5v3M268.5,511h3M270,509.5v3M278.5,524h3M280,522.5v3M288.5,511h3M290,509.5v3M298.5,474h3M300,472.5v3M308.5,498h3M310,496.5v3M318.5,513h3M320,511.5v3M328.5,508h3M330,506.5v3M338.5,485h3M340,483.5v3M348.5,486h3M350,484.5v3M358.5,494h3M360,492.5v3M368.5,496h3M370,494.5v3M378.5,473h3M380,471.5v3M388.5,534h3M390,532.5v3M398.5,503h3M400,501.5v3M408.5,478h3M410,476.5v3M418.5,453h3M420,451.5v3M428.5,463h3M430,461.5v3M438.5,489h3M440,487.5v3M448.5,492h3M450,490.5v3M458.5,505h3M460,503.5v3M468.5,501h3M470,499.5v3M478.5,513h3M480,511.5v3M488.5,520h3M490,518.5v3M498.5,494h3M500,492.5v3M508.5,522h3M510,520.5v3M518.5,523h3M520,521.5v3M528.5,521h3M530,519.5v3M538.5,490h3M540,488.5v3M548.5,504h3M550,502.5v3M558.5,513h3M560,511.5v3M568.5,517h3M570,515.5v3M578.5,498h3M580,496.5v3M588.5,488h3M590,486.5v3M598.5,514h3M600,512.5v3M608.5,514h3M610,512.5v3M618.5,510h3M620,508.5v3M628.5,508h3M630,506.5v3M638.5,506h3M640,504.5v3M648.5,514h3M650,512.5v3M658.5,505h3M660,503.5v3M668.5,508h3M670,506.5v3M678.5,507h3M680,505.5v3M688.5,503h3M690,501.5v3" stroke="#800010" stroke-width="1" fill="none" shape-rendering="crispEdges"/>
<polyline points="50,541.4 60,499.1 70,513.1 80,531.2 90,529.5 100,486.5 110,510.4 120,480.0 130,485.2 140,468.3 150,490.5 160,506.3 170,520.3 180,493.2 190,510.9 200,524.2 210,531.2 220,496.9 230,506.5 240,527.8 250,529.7 260,489.3 270,512.4 280,523.2 290,519.0 300,489.8 310,509.9 320,517.6 330,512.0 340,476.5 350,516.1 360,519.2 370,523.3 380,512.7 390,508.2 400,542.9 410,542.2 420,491.1 430,504.2 440,539.7 450,539.3 460,542.2 470,488.2 480,510.5 490,518.5 500,492.4 510,531.1 520,536.4 530,519.7 540,494.4 550,521.2 560,537.2 570,510.9 580,497.9 590,519.3 600,519.1 610,514.6 620,537.1 630,509.7 640,515.7 650,535.1 660,500.0 670,541.5 680,513.8 690,514.9" fill="none" stroke="#0030C0" stroke-width="1" shape-rendering="crispEdges"/>
<path d="M48.5,541h3M50,539.5v3M58.5,499h3M60,497.5v3M68.5,513h3M70,511.5v3M78.5,531h3M80,529.5v3M88.5,529h3M90,527.5v3M98.5,486h3M100,484.5v3M108.5,510h3M110,508.5v3M118.5,480h3M120,478.5v3M128.5,485h3M130,483.5v3M138.5,468h3M140,466.5v3M148.5,491h3M150,489.5v3M158.5,506h3M160,504.5v3M168.5,520h3M170,518.5v3M178.5,493h3M180,491.5v3M188.5,511h3M190,509.5v3M198.5,524h3M200,522.5v3M208.5,531h3M210,529.5v3M218.5,497h3M220,495.5v3M228.5,506h3M230,504.5v3M238.5,528h3M240,526.5v3M248.5,530h3M250,528.5v3M258.5,489h3M260,487.5v3M268.5,512h3M270,510.5v3M278.5,523h3M280,521.5v3M288.5,519h3M290,517.5v3M298.5,490h3M300,488.5v3M308.5,510h3M310,508.5v3M318.5,518h3M320,516.5v3M328.5,512h3M330,510.5v3M338.5,476h3M340,474.5v3M348.5,516h3M350,514.5v3M358.5,519h3M360,517.5v3M368.5,523h3M370,521.5v3M378.5,513h3M380,511.5v3M388.5,508h3M390,506.5v3M398.5,543h3M400,541.5v3M408.5,542h3M410,540.5v3M418.5,491h3M420,489.5v3M428.5,504h3M430,502.5v3M438.5,540h3M440,538.5v3M448.5,539h3M450,537.5v3M458.5,542h3M460,540.5v3M468.5,488h3M470,486.5v3M478.5,510h3M480,508.5v3M488.5,519h3M490,517.5v3M498.5,492h3M500,490.5v3M508.5,531h3M510,529.5v3M518.5,536h3M520,534.5v3M528.5,520h3M530,518.5v3M538.5,494h3M540,492.5v3M548.5,521h3M550,519.5v3M558.5,537h3M560,535.5v3M568.5,511h3M570,509.5v3M578.5,498h3M580,496.5v3M588.5,519h3M590,517.5v3M598.5,519h3M600,517.5v3M608.5,515h3M610,513.5v3M618.5,537h3M620,535.5v3M628.5,510h3M630,508.5v3M638.5,516h3M640,514.5v3M648.5,535h3M650,533.5v3M658.5,500h3M660,498.5v3M668.5,542h3M670,540.5v3M678.5,514h3M680,512.5v3M688.5,515h3M690,513.5v3" stroke="#0030C0" stroke-width="1" fill="none" shape-rendering="crispEdges"/>
<polyline points="50,539.0 60,494.9 70,513.1 80,526.8 90,529.6 100,494.9 110,515.2 120,492.5 130,486.2 140,463.8 150,488.3 160,505.8 170,518.8 180,496.0 190,511.1 200,524.7 210,532.8 220,497.1 230,515.2 240,530.0 250,530.6 260,489.4 270,508.9 280,524.0 290,519.8 300,479.9 310,498.1 320,513.1 330,507.9 340,476.8 350,501.2 360,519.1 370,520.1 380,487.9 390,508.2 400,516.0 410,516.0 420,491.1 430,505.1 440,516.3 450,513.9 460,492.1 470,497.8 480,513.5 490,514.2 500,494.2 510,508.2 520,520.1 530,519.1 540,496.4 550,504.1 560,513.5 570,509.3 580,497.8 590,505.1 600,513.9 610,514.9 620,503.0 630,508.2 640,516.0 650,516.3 660,499.9 670,508.2 680,513.9 690,514.9" fill="none" stroke="#ff0000" stroke-width="2.5" stroke-linejoin="round" stroke-linecap="round" shape-rendering="crispEdges"/>
</g>
<polygon points="50.5,564.8 44.8,556.8 48.7,546.6 69.4,546.3 52.4,565.8" fill="#0000ff"/><polygon points="74.3,564.1 92.9,562.3 92.9,565.8 90.5,572.2 70.7,583.9" fill="#0000ff"/><polygon points="130.5,564.8 128.6,554.4 129.7,541.1 150.7,543.8 132.5,564.8" fill="#0000ff"/><polygon points="170.5,564.8 167.5,560.3 168.7,545.8 170.7,532.3 183.5,552.5 172.0,564.8" fill="#0000ff"/><polygon points="210.8,554.1 216.7,564.2 212.9,570.3 206.5,573.6 200.0,576.0 197.5,566.3 204.8,559.0" fill="#0000ff"/><polygon points="250.2,548.9 262.4,554.5 256.7,566.3 251.0,567.8 244.1,572.8 245.4,562.2 246.2,554.1" fill="#0000ff"/><polygon points="289.6,540.3 305.4,550.6 293.2,564.8 290.8,568.7 285.9,567.4 288.7,554.1" fill="#0000ff"/><polygon points="330.2,544.1 347.5,548.0 332.9,564.8 330.5,568.7 326.5,567.9 328.1,554.1" fill="#0000ff"/><polygon points="363.3,564.8 369.1,551.4 385.6,550.1 378.3,564.8 372.5,565.6 371.4,570.3 369.7,565.6" fill="#0000ff"/><polygon points="404.3,564.8 408.0,550.9 424.6,550.9 420.0,564.2 410.8,566.8" fill="#0000ff"/><polygon points="437.5,564.8 449.7,552.8 462.3,553.3 457.8,564.8 450.8,566.3 444.0,568.4" fill="#0000ff"/><polygon points="480.5,563.8 478.9,553.3 503.2,552.2 493.5,563.8 490.7,566.3" fill="#0000ff"/><polygon points="530.3,546.8 537.7,557.0 534.8,566.3 530.8,568.4 525.9,567.4 522.2,562.2 525.9,552.5" fill="#0000ff"/><polygon points="553.5,548.0 570.5,559.0 582.3,554.1 574.5,564.8 570.8,566.3 564.8,571.2 566.5,563.0" fill="#0000ff"/><polygon points="597.3,564.8 596.8,550.9 611.0,553.3 617.5,556.6 615.1,564.8 611.0,567.1" fill="#0000ff"/><polygon points="638.7,563.8 637.5,552.5 651.3,553.3 658.6,556.6 657.0,563.8 650.5,566.3 644.8,567.9" fill="#0000ff"/><polygon points="676.9,564.2 673.7,548.0 695.9,560.6 692.7,566.3 690.5,568.4" fill="#0000ff"/>
<path d="M35,565.5H66M50.5,550V581M39,554L62,577M62,554L39,577M75,565.5H106M90.5,550V581M79,554L102,577M102,554L79,577M115,565.5H146M130.5,550V581M119,554L142,577M142,554L119,577M155,565.5H186M170.5,550V581M159,554L182,577M182,554L159,577M195,565.5H226M210.5,550V581M199,554L222,577M222,554L199,577M235,565.5H266M250.5,550V581M239,554L262,577M262,554L239,577M275,565.5H306M290.5,550V581M279,554L302,577M302,554L279,577M315,565.5H346M330.5,550V581M319,554L342,577M342,554L319,577M355,565.5H386M370.5,550V581M359,554L382,577M382,554L359,577M395,565.5H426M410.5,550V581M399,554L422,577M422,554L399,577M435,565.5H466M450.5,550V581M439,554L462,577M462,554L439,577M475,565.5H506M490.5,550V581M479,554L502,577M502,554L479,577M515,565.5H546M530.5,550V581M519,554L542,577M542,554L519,577M555,565.5H586M570.5,550V581M559,554L582,577M582,554L559,577M595,565.5H626M610.5,550V581M599,554L622,577M622,554L599,577M635,565.5H666M650.5,550V581M639,554L662,577M662,554L639,577M675,565.5H706M690.5,550V581M679,554L702,577M702,554L679,577" stroke="#000" stroke-width="1" fill="none" shape-rendering="crispEdges"/>
<g filter="url(#bw)" font-family="Liberation Sans, sans-serif" font-size="6.4" font-weight="bold" fill="#000" text-anchor="middle"><text x="91" y="549">N</text><text x="91" y="588.5">S</text><text x="109" y="569">E</text><text x="75.3" y="569.5">W</text></g>
<g filter="url(#bw)" font-family="Liberation Mono, monospace" font-size="10" fill="#000"><text x="60" y="447">Vent moyen 10m</text><text x="20" y="610">(km/h)</text><text x="710" y="610">(km/h)</text><text transform="translate(91,631) rotate(-90)">22/04</text><text transform="translate(131,631) rotate(-90)">23/04</text><text transform="translate(171,631) rotate(-90)">24/04</text><text transform="translate(211,631) rotate(-90)">25/04</text><text transform="translate(251,631) rotate(-90)">26/04</text><text transform="translate(291,631) rotate(-90)">27/04</text><text transform="translate(331,631) rotate(-90)">28/04</text><text transform="translate(371,631) rotate(-90)">29/04</text><text transform="translate(411,631) rotate(-90)">30/04</text><text transform="translate(451,631) rotate(-90)">01/05</text><text transform="translate(491,631) rotate(-90)">02/05</text><text transform="translate(531,631) rotate(-90)">03/05</text><text transform="translate(571,631) rotate(-90)">04/05</text><text transform="translate(611,631) rotate(-90)">05/05</text><text transform="translate(651,631) rotate(-90)">06/05</text><text transform="translate(691,631) rotate(-90)">07/05</text><text x="75" y="641">Moyenne des scénarios</text><text x="264.5" y="640.5">Run de contrôle</text><text x="264.5" y="650.5">Run GFS</text><text x="180" y="664">Altitude du modele : 256m</text><text x="339.5" y="656">30 Perts.</text><text x="30" y="695.5">Vitesse (km/h) et direction (°) du vent moyen 10m</text><text x="449.5" y="676">Ensemble GEFS du 21/04/2026 - 06Z</text></g>
<g filter="url(#bw)" font-family="Liberation Mono, monospace" font-size="11.67" font-weight="bold" fill="#000"><text x="30" y="680.5">Diagramme des ensembles GEFS sur 384h : 40N 0.2W</text><text x="449.5" y="696">Copyright 2026 Meteociel.fr</text></g>
<rect x="35" y="630" width="31" height="4" fill="#ff0000"/><rect x="225" y="635" width="31" height="4" fill="#0000ff"/><rect x="225" y="645" width="31" height="4" fill="#000"/>
<rect x="20.5" y="667.5" width="419" height="32" fill="none" stroke="#000" stroke-width="1" shape-rendering="crispEdges"/>
<rect x="400" y="650" width="10" height="6" fill="#E08030"/><rect x="411" y="650" width="10" height="6" fill="#80C060"/><rect x="422" y="650" width="10" height="6" fill="#F0C010"/><rect x="433" y="650" width="10" height="6" fill="#9050B0"/><rect x="444" y="650" width="10" height="6" fill="#B05010"/><rect x="455" y="650" width="10" height="6" fill="#508010"/><rect x="466" y="650" width="10" height="6" fill="#1080F0"/><rect x="477" y="650" width="10" height="6" fill="#E8D8B0"/><rect x="488" y="650" width="10" height="6" fill="#4090C0"/><rect x="499" y="650" width="10" height="6" fill="#E0A050"/><rect x="510" y="650" width="10" height="6" fill="#605020"/><rect x="521" y="650" width="10" height="6" fill="#F06020"/><rect x="532" y="650" width="10" height="6" fill="#D0C070"/><rect x="543" y="650" width="10" height="6" fill="#10D050"/><rect x="554" y="650" width="10" height="6" fill="#204060"/><rect x="565" y="650" width="10" height="6" fill="#707880"/><rect x="576" y="650" width="10" height="6" fill="#E080F0"/><rect x="587" y="650" width="10" height="6" fill="#8020F0"/><rect x="598" y="650" width="10" height="6" fill="#806020"/><rect x="609" y="650" width="10" height="6" fill="#301070"/><rect x="620" y="650" width="10" height="6" fill="#F0D010"/><rect x="631" y="650" width="10" height="6" fill="#2060A0"/><rect x="642" y="650" width="10" height="6" fill="#905020"/><rect x="653" y="650" width="10" height="6" fill="#9080F0"/><rect x="664" y="650" width="10" height="6" fill="#A0F040"/><rect x="675" y="650" width="10" height="6" fill="#D070D0"/><rect x="686" y="650" width="10" height="6" fill="#2000A0"/><rect x="697" y="650" width="10" height="6" fill="#E0C8A0"/><rect x="708" y="650" width="10" height="6" fill="#800010"/><rect x="719" y="650" width="10" height="6" fill="#0030C0"/>
<g filter="url(#bw)"><g font-family="Liberation Sans, sans-serif" font-size="8.4" stroke="#000" stroke-width="0.3" fill="#000" letter-spacing="1.2" transform="scale(0.82,1)"><text x="488.78" y="647">01</text><text x="502.20" y="647">02</text><text x="515.61" y="647">03</text><text x="529.02" y="647">04</text><text x="542.44" y="647">05</text><text x="555.85" y="647">06</text><text x="569.27" y="647">07</text><text x="582.68" y="647">08</text><text x="596.10" y="647">09</text><text x="609.51" y="647">10</text><text x="622.93" y="647">11</text><text x="636.34" y="647">12</text><text x="649.76" y="647">13</text><text x="663.17" y="647">14</text><text x="676.59" y="647">15</text><text x="690.00" y="647">16</text><text x="703.41" y="647">17</text><text x="716.83" y="647">18</text><text x="730.24" y="647">19</text><text x="743.66" y="647">20</text><text x="757.07" y="647">21</text><text x="770.49" y="647">22</text><text x="783.90" y="647">23</text><text x="797.32" y="647">24</text><text x="810.73" y="647">25</text><text x="824.15" y="647">26</text><text x="837.56" y="647">27</text><text x="850.98" y="647">28</text><text x="864.39" y="647">29</text><text x="877.80" y="647">30</text></g></g>
</svg>
</body></html>
